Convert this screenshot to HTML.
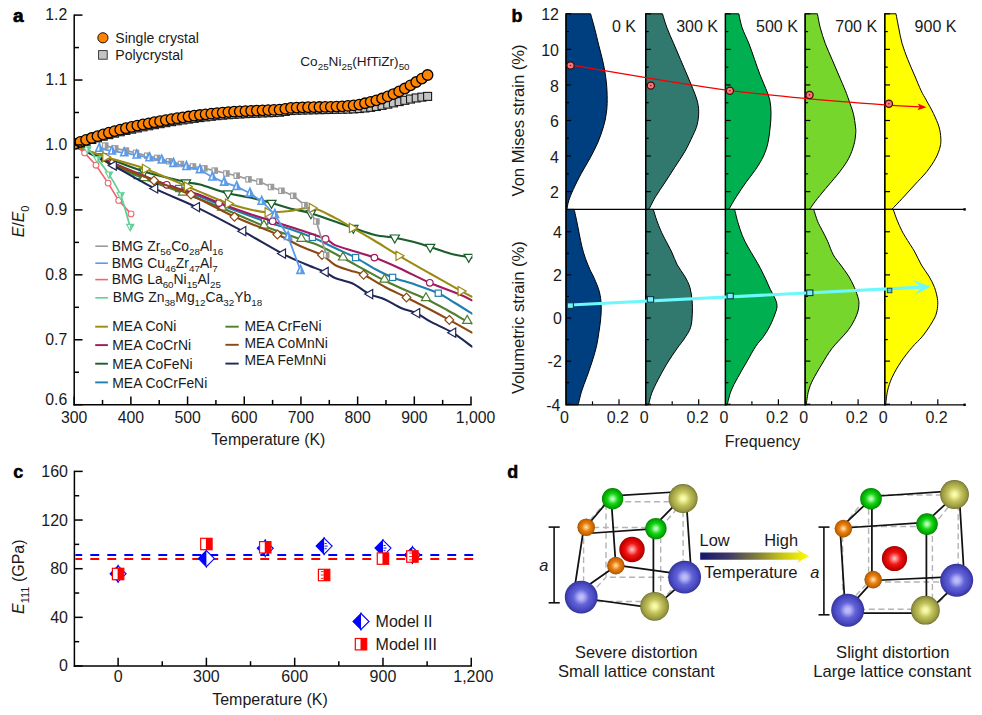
<!DOCTYPE html>
<html><head><meta charset="utf-8"><title>Figure</title>
<style>
html,body{margin:0;padding:0;background:#fff;}
body{width:982px;height:715px;overflow:hidden;font-family:"Liberation Sans",sans-serif;}
svg{display:block;}
svg text{font-family:"Liberation Sans",sans-serif;}
</style></head><body>
<svg width="982" height="715" viewBox="0 0 982 715">
<rect x="0" y="0" width="982" height="715" fill="#ffffff"/>
<g id="panelA">
<clipPath id="clipA"><rect x="74.2" y="0" width="398.2" height="404.7"/></clipPath><g clip-path="url(#clipA)">
<path d="M75 146 C80.83 148.83 99.67 158.08 110 163 C120.33 167.92 125.55 171.25 137 175.5 C148.45 179.75 164.7 183.58 178.7 188.5 C192.7 193.42 206.68 199.55 221 205 C235.32 210.45 253.1 217.2 264.6 221.2 C276.1 225.2 282.03 226.3 290 229 C297.97 231.7 304.9 234.23 312.4 237.4 C319.9 240.57 327.8 244.63 335 248 C342.2 251.37 348.93 254.1 355.6 257.6 C362.27 261.1 368.83 265.7 375 269 C381.17 272.3 385.93 274.82 392.6 277.4 C399.27 279.98 407.38 281.87 415 284.5 C422.62 287.13 431.63 290.12 438.3 293.2 C444.97 296.28 449.38 299.6 455 303 C460.62 306.4 469.17 311.83 472 313.6" fill="none" stroke="#1f7fb0" stroke-width="2.1" stroke-linecap="round"/>
<rect x="133.9" y="172.4" width="6.2" height="6.2" fill="#fff" stroke="#1f7fb0" stroke-width="1.2"/>
<rect x="175.6" y="185.4" width="6.2" height="6.2" fill="#fff" stroke="#1f7fb0" stroke-width="1.2"/>
<rect x="217.9" y="201.9" width="6.2" height="6.2" fill="#fff" stroke="#1f7fb0" stroke-width="1.2"/>
<rect x="261.5" y="218.1" width="6.2" height="6.2" fill="#fff" stroke="#1f7fb0" stroke-width="1.2"/>
<rect x="309.3" y="234.3" width="6.2" height="6.2" fill="#fff" stroke="#1f7fb0" stroke-width="1.2"/>
<rect x="352.5" y="254.5" width="6.2" height="6.2" fill="#fff" stroke="#1f7fb0" stroke-width="1.2"/>
<rect x="389.5" y="274.3" width="6.2" height="6.2" fill="#fff" stroke="#1f7fb0" stroke-width="1.2"/>
<rect x="435.2" y="290.1" width="6.2" height="6.2" fill="#fff" stroke="#1f7fb0" stroke-width="1.2"/>
<path d="M75 146 C80.83 148.92 98.52 158.08 110 163.5 C121.48 168.92 131.73 173.58 143.9 178.5 C156.07 183.42 169.98 188.08 183 193 C196.02 197.92 208.52 202.5 222 208 C235.48 213.5 250.67 220.75 263.9 226 C277.13 231.25 292.05 236.17 301.4 239.5 C310.75 242.83 313.07 242.92 320 246 C326.93 249.08 335.5 254 343 258 C350.5 262 358.08 266.25 365 270 C371.92 273.75 377.83 277.17 384.5 280.5 C391.17 283.83 398.08 286.92 405 290 C411.92 293.08 419 295.67 426 299 C433 302.33 440.13 306.25 447 310 C453.87 313.75 463.03 319.25 467.2 321.5 C471.37 323.75 471.2 323.17 472 323.5" fill="none" stroke="#4f7f2f" stroke-width="2.1" stroke-linecap="round"/>
<polygon points="143.9,172.7 148.5,180.7 139.3,180.7" fill="#fff" stroke="#4f7f2f" stroke-width="1.2" stroke-linejoin="miter"/>
<polygon points="183,187.2 187.6,195.2 178.4,195.2" fill="#fff" stroke="#4f7f2f" stroke-width="1.2" stroke-linejoin="miter"/>
<polygon points="222,202.2 226.6,210.2 217.4,210.2" fill="#fff" stroke="#4f7f2f" stroke-width="1.2" stroke-linejoin="miter"/>
<polygon points="263.9,220.1 268.5,228.1 259.3,228.1" fill="#fff" stroke="#4f7f2f" stroke-width="1.2" stroke-linejoin="miter"/>
<polygon points="301.4,233.3 306,241.3 296.8,241.3" fill="#fff" stroke="#4f7f2f" stroke-width="1.2" stroke-linejoin="miter"/>
<polygon points="343,252 347.6,260 338.4,260" fill="#fff" stroke="#4f7f2f" stroke-width="1.2" stroke-linejoin="miter"/>
<polygon points="384.5,274.2 389.1,282.2 379.9,282.2" fill="#fff" stroke="#4f7f2f" stroke-width="1.2" stroke-linejoin="miter"/>
<polygon points="426,292.7 430.6,300.7 421.4,300.7" fill="#fff" stroke="#4f7f2f" stroke-width="1.2" stroke-linejoin="miter"/>
<polygon points="467.2,315.4 471.8,323.4 462.6,323.4" fill="#fff" stroke="#4f7f2f" stroke-width="1.2" stroke-linejoin="miter"/>
<path d="M75 146 C79.5 147.67 90.5 151.75 102 156 C113.5 160.25 130 167.17 144 171.5 C158 175.83 176.67 179.83 186 182 C195.33 184.17 193.02 182.62 200 184.5 C206.98 186.38 219.57 191.13 227.9 193.3 C236.23 195.47 242.73 195.88 250 197.5 C257.27 199.12 264.83 201.17 271.5 203 C278.17 204.83 283.43 206.8 290 208.5 C296.57 210.2 303.4 211.02 310.9 213.2 C318.4 215.38 327.92 219.13 335 221.6 C342.08 224.07 346.73 225.77 353.4 228 C360.07 230.23 368.1 233.38 375 235 C381.9 236.62 388.63 236.62 394.8 237.7 C400.97 238.78 406.1 239.95 412 241.5 C417.9 243.05 423.87 245 430.2 247 C436.53 249 443.58 251.8 450 253.5 C456.42 255.2 465.03 256.5 468.7 257.2 C472.37 257.9 471.45 257.62 472 257.7" fill="none" stroke="#1b5e2b" stroke-width="2.1" stroke-linecap="round"/>
<polygon points="102,161.8 106.6,153.8 97.4,153.8" fill="#fff" stroke="#1b5e2b" stroke-width="1.2"/>
<polygon points="144,176.8 148.6,168.8 139.4,168.8" fill="#fff" stroke="#1b5e2b" stroke-width="1.2"/>
<polygon points="186,187.8 190.6,179.8 181.4,179.8" fill="#fff" stroke="#1b5e2b" stroke-width="1.2"/>
<polygon points="227.9,198.9 232.5,190.9 223.3,190.9" fill="#fff" stroke="#1b5e2b" stroke-width="1.2"/>
<polygon points="271.5,208.4 276.1,200.4 266.9,200.4" fill="#fff" stroke="#1b5e2b" stroke-width="1.2"/>
<polygon points="310.9,218.7 315.5,210.7 306.3,210.7" fill="#fff" stroke="#1b5e2b" stroke-width="1.2"/>
<polygon points="353.4,233.3 358,225.3 348.8,225.3" fill="#fff" stroke="#1b5e2b" stroke-width="1.2"/>
<polygon points="394.8,243 399.4,235 390.2,235" fill="#fff" stroke="#1b5e2b" stroke-width="1.2"/>
<polygon points="430.2,252.4 434.8,244.4 425.6,244.4" fill="#fff" stroke="#1b5e2b" stroke-width="1.2"/>
<polygon points="468.7,262.4 473.3,254.4 464.1,254.4" fill="#fff" stroke="#1b5e2b" stroke-width="1.2"/>
<path d="M75 146 C81.33 148.83 97.7 156.53 113 163 C128.3 169.47 152.3 179.47 166.8 184.8 C181.3 190.13 191.3 191.97 200 195 C208.7 198.03 210.67 199.83 219 203 C227.33 206.17 241.05 210.97 250 214 C258.95 217.03 264.37 218.53 272.7 221.2 C281.03 223.87 291.18 227.05 300 230 C308.82 232.95 319.77 236.38 325.6 238.9 C331.43 241.42 330.1 243 335 245.1 C339.9 247.2 348.43 249.42 355 251.5 C361.57 253.58 366.9 254.77 374.4 257.6 C381.9 260.43 390.77 264.3 400 268.5 C409.23 272.7 419.63 278.38 429.8 282.8 C439.97 287.22 453.97 292.07 461 295 C468.03 297.93 470.17 299.5 472 300.4" fill="none" stroke="#a3195b" stroke-width="2.1" stroke-linecap="round"/>
<circle cx="113" cy="163" r="3.3" fill="#fff" stroke="#a3195b" stroke-width="1.2"/>
<circle cx="166.8" cy="184.8" r="3.3" fill="#fff" stroke="#a3195b" stroke-width="1.2"/>
<circle cx="219" cy="203" r="3.3" fill="#fff" stroke="#a3195b" stroke-width="1.2"/>
<circle cx="272.7" cy="221.2" r="3.3" fill="#fff" stroke="#a3195b" stroke-width="1.2"/>
<circle cx="325.6" cy="238.9" r="3.3" fill="#fff" stroke="#a3195b" stroke-width="1.2"/>
<circle cx="374.4" cy="257.6" r="3.3" fill="#fff" stroke="#a3195b" stroke-width="1.2"/>
<circle cx="429.8" cy="282.8" r="3.3" fill="#fff" stroke="#a3195b" stroke-width="1.2"/>
<path d="M75 146 C81.17 148.92 98.83 157.75 112 163.5 C125.17 169.25 140.83 175.25 154 180.5 C167.17 185.75 177.58 188.95 191 195 C204.42 201.05 220.1 210.22 234.5 216.8 C248.9 223.38 266.48 229.63 277.4 234.5 C288.32 239.37 292.57 242.58 300 246 C307.43 249.42 316.17 251.83 322 255 C327.83 258.17 330.33 262.42 335 265 C339.67 267.58 345.23 268.87 350 270.5 C354.77 272.13 357.77 272.05 363.6 274.8 C369.43 277.55 377.85 283.22 385 287 C392.15 290.78 399 293.75 406.5 297.5 C414 301.25 422.87 305.77 430 309.5 C437.13 313.23 442.3 316.03 449.3 319.9 C456.3 323.77 468.22 330.57 472 332.7" fill="none" stroke="#8b4a12" stroke-width="2.1" stroke-linecap="round"/>
<polygon points="112,159.1 116.4,163.5 112,167.9 107.6,163.5" fill="#fff" stroke="#8b4a12" stroke-width="1.2"/>
<polygon points="154,176.1 158.4,180.5 154,184.9 149.6,180.5" fill="#fff" stroke="#8b4a12" stroke-width="1.2"/>
<polygon points="191,190.2 195.4,194.6 191,199 186.6,194.6" fill="#fff" stroke="#8b4a12" stroke-width="1.2"/>
<polygon points="234.5,212.4 238.9,216.8 234.5,221.2 230.1,216.8" fill="#fff" stroke="#8b4a12" stroke-width="1.2"/>
<polygon points="277.4,230.1 281.8,234.5 277.4,238.9 273,234.5" fill="#fff" stroke="#8b4a12" stroke-width="1.2"/>
<polygon points="322,250.6 326.4,255 322,259.4 317.6,255" fill="#fff" stroke="#8b4a12" stroke-width="1.2"/>
<polygon points="363.6,270.4 368,274.8 363.6,279.2 359.2,274.8" fill="#fff" stroke="#8b4a12" stroke-width="1.2"/>
<polygon points="406.5,293.1 410.9,297.5 406.5,301.9 402.1,297.5" fill="#fff" stroke="#8b4a12" stroke-width="1.2"/>
<polygon points="449.3,315.5 453.7,319.9 449.3,324.3 444.9,319.9" fill="#fff" stroke="#8b4a12" stroke-width="1.2"/>
<path d="M75 146 C79.17 148 93.65 154.75 100 158 C106.35 161.25 104.02 160.43 113.1 165.5 C122.18 170.57 140.63 181.47 154.5 188.4 C168.37 195.33 181.62 199.97 196.3 207.1 C210.98 214.23 228.27 223.45 242.6 231.2 C256.93 238.95 271.9 248.13 282.3 253.6 C292.7 259.07 297.88 260.93 305 264 C312.12 267.07 320 269.67 325 272 C330 274.33 330.4 276.08 335 278 C339.6 279.92 346.85 280.82 352.6 283.5 C358.35 286.18 364.1 291.43 369.5 294.1 C374.9 296.77 379.75 297.18 385 299.5 C390.25 301.82 395.75 305.72 401 308 C406.25 310.28 411.58 310.92 416.5 313.2 C421.42 315.48 424.5 318.45 430.5 321.7 C436.5 324.95 445.58 328.53 452.5 332.7 C459.42 336.87 468.75 344.37 472 346.7" fill="none" stroke="#1f2757" stroke-width="2.1" stroke-linecap="round"/>
<polygon points="108.3,165.5 116.3,160.9 116.3,170.1" fill="#fff" stroke="#1f2757" stroke-width="1.2"/>
<polygon points="149.7,188.4 157.7,183.8 157.7,193" fill="#fff" stroke="#1f2757" stroke-width="1.2"/>
<polygon points="191.5,207.1 199.5,202.5 199.5,211.7" fill="#fff" stroke="#1f2757" stroke-width="1.2"/>
<polygon points="237.8,231.2 245.8,226.6 245.8,235.8" fill="#fff" stroke="#1f2757" stroke-width="1.2"/>
<polygon points="277.5,253.6 285.5,249 285.5,258.2" fill="#fff" stroke="#1f2757" stroke-width="1.2"/>
<polygon points="320.2,272 328.2,267.4 328.2,276.6" fill="#fff" stroke="#1f2757" stroke-width="1.2"/>
<polygon points="364.7,294.1 372.7,289.5 372.7,298.7" fill="#fff" stroke="#1f2757" stroke-width="1.2"/>
<polygon points="411.7,313.2 419.7,308.6 419.7,317.8" fill="#fff" stroke="#1f2757" stroke-width="1.2"/>
<polygon points="447.7,332.7 455.7,328.1 455.7,337.3" fill="#fff" stroke="#1f2757" stroke-width="1.2"/>
<path d="M75 146 C80.17 147.83 94.23 153.18 106 157 C117.77 160.82 132.02 163.98 145.6 168.9 C159.18 173.82 178.43 182.67 187.5 186.5 C196.57 190.33 193.15 189.05 200 191.9 C206.85 194.75 220.27 200.67 228.6 203.6 C236.93 206.53 243.38 208.03 250 209.5 C256.62 210.97 261.63 212.15 268.3 212.4 C274.97 212.65 282.65 211.73 290 211 C297.35 210.27 304.9 206.85 312.4 208 C319.9 209.15 328.3 214.58 335 217.9 C341.7 221.22 345.93 224.05 352.6 227.9 C359.27 231.75 367.23 236.35 375 241 C382.77 245.65 390.03 250.38 399.2 255.8 C408.37 261.22 419.65 267.62 430 273.5 C440.35 279.38 454.3 287.23 461.3 291.1 C468.3 294.97 470.22 295.77 472 296.7" fill="none" stroke="#9a8b14" stroke-width="2.1" stroke-linecap="round"/>
<polygon points="110.8,157 102.8,152.4 102.8,161.6" fill="#fff" stroke="#9a8b14" stroke-width="1.2"/>
<polygon points="150.4,168.9 142.4,164.3 142.4,173.5" fill="#fff" stroke="#9a8b14" stroke-width="1.2"/>
<polygon points="192.3,186.5 184.3,181.9 184.3,191.1" fill="#fff" stroke="#9a8b14" stroke-width="1.2"/>
<polygon points="233.4,203.6 225.4,199 225.4,208.2" fill="#fff" stroke="#9a8b14" stroke-width="1.2"/>
<polygon points="273.1,212.4 265.1,207.8 265.1,217" fill="#fff" stroke="#9a8b14" stroke-width="1.2"/>
<polygon points="317.2,208 309.2,203.4 309.2,212.6" fill="#fff" stroke="#9a8b14" stroke-width="1.2"/>
<polygon points="357.4,227.9 349.4,223.3 349.4,232.5" fill="#fff" stroke="#9a8b14" stroke-width="1.2"/>
<polygon points="404,255.8 396,251.2 396,260.4" fill="#fff" stroke="#9a8b14" stroke-width="1.2"/>
<polygon points="466.1,291.1 458.1,286.5 458.1,295.7" fill="#fff" stroke="#9a8b14" stroke-width="1.2"/>
<polyline points="105.3,145.6 115.3,148.4 126,150.6 136,152.9 147.2,155.7 157.3,157.9 169.1,161.3 181,164 193,166.5 204.4,168.4 214.7,170.6 226.4,173.5 236.7,175.7 248.5,179.4 259.5,181.6 271,187 281.5,190.8 293.3,195.8 304.6,205.1 316.4,221.5 326.3,255" fill="none" stroke="#9a9a9a" stroke-width="1.7"/>
<rect x="102.6" y="142.9" width="5.4" height="5.4" fill="#fff" stroke="#9a9a9a" stroke-width="1.1"/>
<rect x="104.76" y="142.9" width="3.24" height="5.4" fill="#9a9a9a"/>
<rect x="112.6" y="145.7" width="5.4" height="5.4" fill="#fff" stroke="#9a9a9a" stroke-width="1.1"/>
<rect x="114.76" y="145.7" width="3.24" height="5.4" fill="#9a9a9a"/>
<rect x="123.3" y="147.9" width="5.4" height="5.4" fill="#fff" stroke="#9a9a9a" stroke-width="1.1"/>
<rect x="125.46" y="147.9" width="3.24" height="5.4" fill="#9a9a9a"/>
<rect x="133.3" y="150.2" width="5.4" height="5.4" fill="#fff" stroke="#9a9a9a" stroke-width="1.1"/>
<rect x="135.46" y="150.2" width="3.24" height="5.4" fill="#9a9a9a"/>
<rect x="144.5" y="153" width="5.4" height="5.4" fill="#fff" stroke="#9a9a9a" stroke-width="1.1"/>
<rect x="146.66" y="153" width="3.24" height="5.4" fill="#9a9a9a"/>
<rect x="154.6" y="155.2" width="5.4" height="5.4" fill="#fff" stroke="#9a9a9a" stroke-width="1.1"/>
<rect x="156.76" y="155.2" width="3.24" height="5.4" fill="#9a9a9a"/>
<rect x="166.4" y="158.6" width="5.4" height="5.4" fill="#fff" stroke="#9a9a9a" stroke-width="1.1"/>
<rect x="168.56" y="158.6" width="3.24" height="5.4" fill="#9a9a9a"/>
<rect x="178.3" y="161.3" width="5.4" height="5.4" fill="#fff" stroke="#9a9a9a" stroke-width="1.1"/>
<rect x="180.46" y="161.3" width="3.24" height="5.4" fill="#9a9a9a"/>
<rect x="190.3" y="163.8" width="5.4" height="5.4" fill="#fff" stroke="#9a9a9a" stroke-width="1.1"/>
<rect x="192.46" y="163.8" width="3.24" height="5.4" fill="#9a9a9a"/>
<rect x="201.7" y="165.7" width="5.4" height="5.4" fill="#fff" stroke="#9a9a9a" stroke-width="1.1"/>
<rect x="203.86" y="165.7" width="3.24" height="5.4" fill="#9a9a9a"/>
<rect x="212" y="167.9" width="5.4" height="5.4" fill="#fff" stroke="#9a9a9a" stroke-width="1.1"/>
<rect x="214.16" y="167.9" width="3.24" height="5.4" fill="#9a9a9a"/>
<rect x="223.7" y="170.8" width="5.4" height="5.4" fill="#fff" stroke="#9a9a9a" stroke-width="1.1"/>
<rect x="225.86" y="170.8" width="3.24" height="5.4" fill="#9a9a9a"/>
<rect x="234" y="173" width="5.4" height="5.4" fill="#fff" stroke="#9a9a9a" stroke-width="1.1"/>
<rect x="236.16" y="173" width="3.24" height="5.4" fill="#9a9a9a"/>
<rect x="245.8" y="176.7" width="5.4" height="5.4" fill="#fff" stroke="#9a9a9a" stroke-width="1.1"/>
<rect x="247.96" y="176.7" width="3.24" height="5.4" fill="#9a9a9a"/>
<rect x="256.8" y="178.9" width="5.4" height="5.4" fill="#fff" stroke="#9a9a9a" stroke-width="1.1"/>
<rect x="258.96" y="178.9" width="3.24" height="5.4" fill="#9a9a9a"/>
<rect x="268.3" y="184.3" width="5.4" height="5.4" fill="#fff" stroke="#9a9a9a" stroke-width="1.1"/>
<rect x="270.46" y="184.3" width="3.24" height="5.4" fill="#9a9a9a"/>
<rect x="278.8" y="188.1" width="5.4" height="5.4" fill="#fff" stroke="#9a9a9a" stroke-width="1.1"/>
<rect x="280.96" y="188.1" width="3.24" height="5.4" fill="#9a9a9a"/>
<rect x="290.6" y="193.1" width="5.4" height="5.4" fill="#fff" stroke="#9a9a9a" stroke-width="1.1"/>
<rect x="292.76" y="193.1" width="3.24" height="5.4" fill="#9a9a9a"/>
<rect x="301.9" y="202.4" width="5.4" height="5.4" fill="#fff" stroke="#9a9a9a" stroke-width="1.1"/>
<rect x="304.06" y="202.4" width="3.24" height="5.4" fill="#9a9a9a"/>
<rect x="313.7" y="218.8" width="5.4" height="5.4" fill="#fff" stroke="#9a9a9a" stroke-width="1.1"/>
<rect x="315.86" y="218.8" width="3.24" height="5.4" fill="#9a9a9a"/>
<rect x="323.6" y="252.3" width="5.4" height="5.4" fill="#fff" stroke="#9a9a9a" stroke-width="1.1"/>
<rect x="325.76" y="252.3" width="3.24" height="5.4" fill="#9a9a9a"/>
<polyline points="99.3,148.4 112,151.2 124.3,152.9 136.8,155.1 149.5,157.9 161.8,160.2 173.5,163.5 186.5,166.6 200,169.8 212.5,177.2 224.2,182.3 236.7,186.7 250,193.3 261.7,201.4 274.9,214.6 288.1,236.7 300.5,270.5" fill="none" stroke="#5b9bea" stroke-width="1.8"/>
<polygon points="99.3,143.35 102.9,151.27 95.7,151.27" fill="#fff" stroke="#5b9bea" stroke-width="1.6" stroke-linejoin="miter"/>
<polygon points="99.3,143.35 102.9,151.27 99.3,151.27" fill="#5b9bea"/>
<polygon points="112,146.15 115.6,154.07 108.4,154.07" fill="#fff" stroke="#5b9bea" stroke-width="1.6" stroke-linejoin="miter"/>
<polygon points="112,146.15 115.6,154.07 112,154.07" fill="#5b9bea"/>
<polygon points="124.3,147.85 127.9,155.77 120.7,155.77" fill="#fff" stroke="#5b9bea" stroke-width="1.6" stroke-linejoin="miter"/>
<polygon points="124.3,147.85 127.9,155.77 124.3,155.77" fill="#5b9bea"/>
<polygon points="136.8,150.05 140.4,157.97 133.2,157.97" fill="#fff" stroke="#5b9bea" stroke-width="1.6" stroke-linejoin="miter"/>
<polygon points="136.8,150.05 140.4,157.97 136.8,157.97" fill="#5b9bea"/>
<polygon points="149.5,152.85 153.1,160.77 145.9,160.77" fill="#fff" stroke="#5b9bea" stroke-width="1.6" stroke-linejoin="miter"/>
<polygon points="149.5,152.85 153.1,160.77 149.5,160.77" fill="#5b9bea"/>
<polygon points="161.8,155.15 165.4,163.07 158.2,163.07" fill="#fff" stroke="#5b9bea" stroke-width="1.6" stroke-linejoin="miter"/>
<polygon points="161.8,155.15 165.4,163.07 161.8,163.07" fill="#5b9bea"/>
<polygon points="173.5,158.45 177.1,166.37 169.9,166.37" fill="#fff" stroke="#5b9bea" stroke-width="1.6" stroke-linejoin="miter"/>
<polygon points="173.5,158.45 177.1,166.37 173.5,166.37" fill="#5b9bea"/>
<polygon points="186.5,161.55 190.1,169.47 182.9,169.47" fill="#fff" stroke="#5b9bea" stroke-width="1.6" stroke-linejoin="miter"/>
<polygon points="186.5,161.55 190.1,169.47 186.5,169.47" fill="#5b9bea"/>
<polygon points="200,164.75 203.6,172.67 196.4,172.67" fill="#fff" stroke="#5b9bea" stroke-width="1.6" stroke-linejoin="miter"/>
<polygon points="200,164.75 203.6,172.67 200,172.67" fill="#5b9bea"/>
<polygon points="212.5,172.15 216.1,180.07 208.9,180.07" fill="#fff" stroke="#5b9bea" stroke-width="1.6" stroke-linejoin="miter"/>
<polygon points="212.5,172.15 216.1,180.07 212.5,180.07" fill="#5b9bea"/>
<polygon points="224.2,177.25 227.8,185.17 220.6,185.17" fill="#fff" stroke="#5b9bea" stroke-width="1.6" stroke-linejoin="miter"/>
<polygon points="224.2,177.25 227.8,185.17 224.2,185.17" fill="#5b9bea"/>
<polygon points="236.7,181.65 240.3,189.57 233.1,189.57" fill="#fff" stroke="#5b9bea" stroke-width="1.6" stroke-linejoin="miter"/>
<polygon points="236.7,181.65 240.3,189.57 236.7,189.57" fill="#5b9bea"/>
<polygon points="250,188.25 253.6,196.17 246.4,196.17" fill="#fff" stroke="#5b9bea" stroke-width="1.6" stroke-linejoin="miter"/>
<polygon points="250,188.25 253.6,196.17 250,196.17" fill="#5b9bea"/>
<polygon points="261.7,196.35 265.3,204.27 258.1,204.27" fill="#fff" stroke="#5b9bea" stroke-width="1.6" stroke-linejoin="miter"/>
<polygon points="261.7,196.35 265.3,204.27 261.7,204.27" fill="#5b9bea"/>
<polygon points="274.9,209.55 278.5,217.47 271.3,217.47" fill="#fff" stroke="#5b9bea" stroke-width="1.6" stroke-linejoin="miter"/>
<polygon points="274.9,209.55 278.5,217.47 274.9,217.47" fill="#5b9bea"/>
<polygon points="288.1,231.65 291.7,239.57 284.5,239.57" fill="#fff" stroke="#5b9bea" stroke-width="1.6" stroke-linejoin="miter"/>
<polygon points="288.1,231.65 291.7,239.57 288.1,239.57" fill="#5b9bea"/>
<polygon points="300.5,265.45 304.1,273.37 296.9,273.37" fill="#fff" stroke="#5b9bea" stroke-width="1.6" stroke-linejoin="miter"/>
<polygon points="300.5,265.45 304.1,273.37 300.5,273.37" fill="#5b9bea"/>
<polyline points="75,145.5 84.6,152.9 96,165.2 108.1,183.1 118.7,200.4 131,213.9" fill="none" stroke="#f0656f" stroke-width="1.6"/>
<circle cx="84.6" cy="152.9" r="2.9" fill="#fff" stroke="#f0656f" stroke-width="1.1"/>
<circle cx="96" cy="165.2" r="2.9" fill="#fff" stroke="#f0656f" stroke-width="1.1"/>
<circle cx="108.1" cy="183.1" r="2.9" fill="#fff" stroke="#f0656f" stroke-width="1.1"/>
<circle cx="118.7" cy="200.4" r="2.9" fill="#fff" stroke="#f0656f" stroke-width="1.1"/>
<circle cx="131" cy="213.9" r="2.9" fill="#fff" stroke="#f0656f" stroke-width="1.1"/>
<path d="M78 145.5 C79.57 146.17 84.18 147.22 87.4 149.5 C90.62 151.78 93.7 155.02 97.3 159.2 C100.9 163.38 105.12 168.57 109 174.6 C112.88 180.63 117.07 186.67 120.6 195.4 C124.13 204.13 128.6 221.73 130.2 227" fill="none" stroke="#62cf96" stroke-width="1.8"/>
<polygon points="87.4,153.39 91,146.91 83.8,146.91" fill="#fff" stroke="#62cf96" stroke-width="1.1"/>
<polygon points="87.4,153.39 91,146.91 87.4,146.91" fill="#62cf96"/>
<polygon points="97.3,163.09 100.9,156.61 93.7,156.61" fill="#fff" stroke="#62cf96" stroke-width="1.1"/>
<polygon points="97.3,163.09 100.9,156.61 97.3,156.61" fill="#62cf96"/>
<polygon points="109,178.49 112.6,172.01 105.4,172.01" fill="#fff" stroke="#62cf96" stroke-width="1.1"/>
<polygon points="109,178.49 112.6,172.01 109,172.01" fill="#62cf96"/>
<polygon points="120.6,199.29 124.2,192.81 117,192.81" fill="#fff" stroke="#62cf96" stroke-width="1.1"/>
<polygon points="120.6,199.29 124.2,192.81 120.6,192.81" fill="#62cf96"/>
<polygon points="130.2,230.89 133.8,224.41 126.6,224.41" fill="#fff" stroke="#62cf96" stroke-width="1.1"/>
<polygon points="130.2,230.89 133.8,224.41 130.2,224.41" fill="#62cf96"/>
<rect x="70.7" y="140.8" width="8" height="8" fill="#c4c4c4" stroke="#1a1a1a" stroke-width="1.1"/>
<rect x="76.39" y="139.01" width="8" height="8" fill="#c4c4c4" stroke="#1a1a1a" stroke-width="1.1"/>
<rect x="82.08" y="137.21" width="8" height="8" fill="#c4c4c4" stroke="#1a1a1a" stroke-width="1.1"/>
<rect x="87.78" y="135.49" width="8" height="8" fill="#c4c4c4" stroke="#1a1a1a" stroke-width="1.1"/>
<rect x="93.47" y="133.83" width="8" height="8" fill="#c4c4c4" stroke="#1a1a1a" stroke-width="1.1"/>
<rect x="99.16" y="132.2" width="8" height="8" fill="#c4c4c4" stroke="#1a1a1a" stroke-width="1.1"/>
<rect x="104.85" y="130.64" width="8" height="8" fill="#c4c4c4" stroke="#1a1a1a" stroke-width="1.1"/>
<rect x="110.54" y="129.16" width="8" height="8" fill="#c4c4c4" stroke="#1a1a1a" stroke-width="1.1"/>
<rect x="116.24" y="127.75" width="8" height="8" fill="#c4c4c4" stroke="#1a1a1a" stroke-width="1.1"/>
<rect x="121.93" y="126.42" width="8" height="8" fill="#c4c4c4" stroke="#1a1a1a" stroke-width="1.1"/>
<rect x="127.62" y="125.16" width="8" height="8" fill="#c4c4c4" stroke="#1a1a1a" stroke-width="1.1"/>
<rect x="133.31" y="123.95" width="8" height="8" fill="#c4c4c4" stroke="#1a1a1a" stroke-width="1.1"/>
<rect x="139" y="122.82" width="8" height="8" fill="#c4c4c4" stroke="#1a1a1a" stroke-width="1.1"/>
<rect x="144.7" y="121.75" width="8" height="8" fill="#c4c4c4" stroke="#1a1a1a" stroke-width="1.1"/>
<rect x="150.39" y="120.7" width="8" height="8" fill="#c4c4c4" stroke="#1a1a1a" stroke-width="1.1"/>
<rect x="156.08" y="119.67" width="8" height="8" fill="#c4c4c4" stroke="#1a1a1a" stroke-width="1.1"/>
<rect x="161.77" y="118.66" width="8" height="8" fill="#c4c4c4" stroke="#1a1a1a" stroke-width="1.1"/>
<rect x="167.46" y="117.68" width="8" height="8" fill="#c4c4c4" stroke="#1a1a1a" stroke-width="1.1"/>
<rect x="173.15" y="116.76" width="8" height="8" fill="#c4c4c4" stroke="#1a1a1a" stroke-width="1.1"/>
<rect x="178.85" y="115.9" width="8" height="8" fill="#c4c4c4" stroke="#1a1a1a" stroke-width="1.1"/>
<rect x="184.54" y="115.09" width="8" height="8" fill="#c4c4c4" stroke="#1a1a1a" stroke-width="1.1"/>
<rect x="190.23" y="114.32" width="8" height="8" fill="#c4c4c4" stroke="#1a1a1a" stroke-width="1.1"/>
<rect x="195.92" y="113.6" width="8" height="8" fill="#c4c4c4" stroke="#1a1a1a" stroke-width="1.1"/>
<rect x="201.61" y="112.9" width="8" height="8" fill="#c4c4c4" stroke="#1a1a1a" stroke-width="1.1"/>
<rect x="207.31" y="112.25" width="8" height="8" fill="#c4c4c4" stroke="#1a1a1a" stroke-width="1.1"/>
<rect x="213" y="111.66" width="8" height="8" fill="#c4c4c4" stroke="#1a1a1a" stroke-width="1.1"/>
<rect x="218.69" y="111.14" width="8" height="8" fill="#c4c4c4" stroke="#1a1a1a" stroke-width="1.1"/>
<rect x="224.38" y="110.7" width="8" height="8" fill="#c4c4c4" stroke="#1a1a1a" stroke-width="1.1"/>
<rect x="230.07" y="110.32" width="8" height="8" fill="#c4c4c4" stroke="#1a1a1a" stroke-width="1.1"/>
<rect x="235.77" y="109.98" width="8" height="8" fill="#c4c4c4" stroke="#1a1a1a" stroke-width="1.1"/>
<rect x="241.46" y="109.66" width="8" height="8" fill="#c4c4c4" stroke="#1a1a1a" stroke-width="1.1"/>
<rect x="247.15" y="109.39" width="8" height="8" fill="#c4c4c4" stroke="#1a1a1a" stroke-width="1.1"/>
<rect x="252.84" y="109.14" width="8" height="8" fill="#c4c4c4" stroke="#1a1a1a" stroke-width="1.1"/>
<rect x="258.53" y="108.9" width="8" height="8" fill="#c4c4c4" stroke="#1a1a1a" stroke-width="1.1"/>
<rect x="264.23" y="108.72" width="8" height="8" fill="#c4c4c4" stroke="#1a1a1a" stroke-width="1.1"/>
<rect x="269.92" y="108.55" width="8" height="8" fill="#c4c4c4" stroke="#1a1a1a" stroke-width="1.1"/>
<rect x="275.61" y="108.23" width="8" height="8" fill="#c4c4c4" stroke="#1a1a1a" stroke-width="1.1"/>
<rect x="281.3" y="107.41" width="8" height="8" fill="#c4c4c4" stroke="#1a1a1a" stroke-width="1.1"/>
<rect x="286.99" y="106.53" width="8" height="8" fill="#c4c4c4" stroke="#1a1a1a" stroke-width="1.1"/>
<rect x="292.69" y="106.2" width="8" height="8" fill="#c4c4c4" stroke="#1a1a1a" stroke-width="1.1"/>
<rect x="298.38" y="106.02" width="8" height="8" fill="#c4c4c4" stroke="#1a1a1a" stroke-width="1.1"/>
<rect x="304.07" y="105.9" width="8" height="8" fill="#c4c4c4" stroke="#1a1a1a" stroke-width="1.1"/>
<rect x="309.76" y="105.78" width="8" height="8" fill="#c4c4c4" stroke="#1a1a1a" stroke-width="1.1"/>
<rect x="315.45" y="105.66" width="8" height="8" fill="#c4c4c4" stroke="#1a1a1a" stroke-width="1.1"/>
<rect x="321.15" y="105.57" width="8" height="8" fill="#c4c4c4" stroke="#1a1a1a" stroke-width="1.1"/>
<rect x="326.84" y="105.47" width="8" height="8" fill="#c4c4c4" stroke="#1a1a1a" stroke-width="1.1"/>
<rect x="332.53" y="105.35" width="8" height="8" fill="#c4c4c4" stroke="#1a1a1a" stroke-width="1.1"/>
<rect x="338.22" y="105.23" width="8" height="8" fill="#c4c4c4" stroke="#1a1a1a" stroke-width="1.1"/>
<rect x="343.91" y="105.1" width="8" height="8" fill="#c4c4c4" stroke="#1a1a1a" stroke-width="1.1"/>
<rect x="349.6" y="104.89" width="8" height="8" fill="#c4c4c4" stroke="#1a1a1a" stroke-width="1.1"/>
<rect x="355.3" y="104.54" width="8" height="8" fill="#c4c4c4" stroke="#1a1a1a" stroke-width="1.1"/>
<rect x="360.99" y="103.98" width="8" height="8" fill="#c4c4c4" stroke="#1a1a1a" stroke-width="1.1"/>
<rect x="366.68" y="103.33" width="8" height="8" fill="#c4c4c4" stroke="#1a1a1a" stroke-width="1.1"/>
<rect x="372.37" y="102.49" width="8" height="8" fill="#c4c4c4" stroke="#1a1a1a" stroke-width="1.1"/>
<rect x="378.06" y="101.38" width="8" height="8" fill="#c4c4c4" stroke="#1a1a1a" stroke-width="1.1"/>
<rect x="383.76" y="100.15" width="8" height="8" fill="#c4c4c4" stroke="#1a1a1a" stroke-width="1.1"/>
<rect x="389.45" y="98.88" width="8" height="8" fill="#c4c4c4" stroke="#1a1a1a" stroke-width="1.1"/>
<rect x="395.14" y="97.58" width="8" height="8" fill="#c4c4c4" stroke="#1a1a1a" stroke-width="1.1"/>
<rect x="400.83" y="96.31" width="8" height="8" fill="#c4c4c4" stroke="#1a1a1a" stroke-width="1.1"/>
<rect x="406.52" y="95.05" width="8" height="8" fill="#c4c4c4" stroke="#1a1a1a" stroke-width="1.1"/>
<rect x="412.22" y="93.96" width="8" height="8" fill="#c4c4c4" stroke="#1a1a1a" stroke-width="1.1"/>
<rect x="417.91" y="93.14" width="8" height="8" fill="#c4c4c4" stroke="#1a1a1a" stroke-width="1.1"/>
<rect x="423.6" y="92.4" width="8" height="8" fill="#c4c4c4" stroke="#1a1a1a" stroke-width="1.1"/>
<circle cx="74.7" cy="143.8" r="5.25" fill="#ff8200" stroke="#000" stroke-width="1.3"/>
<circle cx="80.39" cy="141.83" r="5.25" fill="#ff8200" stroke="#000" stroke-width="1.3"/>
<circle cx="86.08" cy="139.86" r="5.25" fill="#ff8200" stroke="#000" stroke-width="1.3"/>
<circle cx="91.78" cy="137.98" r="5.25" fill="#ff8200" stroke="#000" stroke-width="1.3"/>
<circle cx="97.47" cy="136.17" r="5.25" fill="#ff8200" stroke="#000" stroke-width="1.3"/>
<circle cx="103.16" cy="134.41" r="5.25" fill="#ff8200" stroke="#000" stroke-width="1.3"/>
<circle cx="108.85" cy="132.72" r="5.25" fill="#ff8200" stroke="#000" stroke-width="1.3"/>
<circle cx="114.54" cy="131.12" r="5.25" fill="#ff8200" stroke="#000" stroke-width="1.3"/>
<circle cx="120.24" cy="129.63" r="5.25" fill="#ff8200" stroke="#000" stroke-width="1.3"/>
<circle cx="125.93" cy="128.22" r="5.25" fill="#ff8200" stroke="#000" stroke-width="1.3"/>
<circle cx="131.62" cy="126.89" r="5.25" fill="#ff8200" stroke="#000" stroke-width="1.3"/>
<circle cx="137.31" cy="125.62" r="5.25" fill="#ff8200" stroke="#000" stroke-width="1.3"/>
<circle cx="143" cy="124.43" r="5.25" fill="#ff8200" stroke="#000" stroke-width="1.3"/>
<circle cx="148.7" cy="123.3" r="5.25" fill="#ff8200" stroke="#000" stroke-width="1.3"/>
<circle cx="154.39" cy="122.21" r="5.25" fill="#ff8200" stroke="#000" stroke-width="1.3"/>
<circle cx="160.08" cy="121.14" r="5.25" fill="#ff8200" stroke="#000" stroke-width="1.3"/>
<circle cx="165.77" cy="120.09" r="5.25" fill="#ff8200" stroke="#000" stroke-width="1.3"/>
<circle cx="171.46" cy="119.1" r="5.25" fill="#ff8200" stroke="#000" stroke-width="1.3"/>
<circle cx="177.15" cy="118.16" r="5.25" fill="#ff8200" stroke="#000" stroke-width="1.3"/>
<circle cx="182.85" cy="117.29" r="5.25" fill="#ff8200" stroke="#000" stroke-width="1.3"/>
<circle cx="188.54" cy="116.48" r="5.25" fill="#ff8200" stroke="#000" stroke-width="1.3"/>
<circle cx="194.23" cy="115.72" r="5.25" fill="#ff8200" stroke="#000" stroke-width="1.3"/>
<circle cx="199.92" cy="115" r="5.25" fill="#ff8200" stroke="#000" stroke-width="1.3"/>
<circle cx="205.61" cy="114.3" r="5.25" fill="#ff8200" stroke="#000" stroke-width="1.3"/>
<circle cx="211.31" cy="113.65" r="5.25" fill="#ff8200" stroke="#000" stroke-width="1.3"/>
<circle cx="217" cy="113.06" r="5.25" fill="#ff8200" stroke="#000" stroke-width="1.3"/>
<circle cx="222.69" cy="112.54" r="5.25" fill="#ff8200" stroke="#000" stroke-width="1.3"/>
<circle cx="228.38" cy="112.1" r="5.25" fill="#ff8200" stroke="#000" stroke-width="1.3"/>
<circle cx="234.07" cy="111.72" r="5.25" fill="#ff8200" stroke="#000" stroke-width="1.3"/>
<circle cx="239.77" cy="111.38" r="5.25" fill="#ff8200" stroke="#000" stroke-width="1.3"/>
<circle cx="245.46" cy="111.06" r="5.25" fill="#ff8200" stroke="#000" stroke-width="1.3"/>
<circle cx="251.15" cy="110.79" r="5.25" fill="#ff8200" stroke="#000" stroke-width="1.3"/>
<circle cx="256.84" cy="110.54" r="5.25" fill="#ff8200" stroke="#000" stroke-width="1.3"/>
<circle cx="262.53" cy="110.3" r="5.25" fill="#ff8200" stroke="#000" stroke-width="1.3"/>
<circle cx="268.23" cy="110.12" r="5.25" fill="#ff8200" stroke="#000" stroke-width="1.3"/>
<circle cx="273.92" cy="109.95" r="5.25" fill="#ff8200" stroke="#000" stroke-width="1.3"/>
<circle cx="279.61" cy="109.63" r="5.25" fill="#ff8200" stroke="#000" stroke-width="1.3"/>
<circle cx="285.3" cy="108.81" r="5.25" fill="#ff8200" stroke="#000" stroke-width="1.3"/>
<circle cx="290.99" cy="107.93" r="5.25" fill="#ff8200" stroke="#000" stroke-width="1.3"/>
<circle cx="296.69" cy="107.58" r="5.25" fill="#ff8200" stroke="#000" stroke-width="1.3"/>
<circle cx="302.38" cy="107.36" r="5.25" fill="#ff8200" stroke="#000" stroke-width="1.3"/>
<circle cx="308.07" cy="107.22" r="5.25" fill="#ff8200" stroke="#000" stroke-width="1.3"/>
<circle cx="313.76" cy="107.07" r="5.25" fill="#ff8200" stroke="#000" stroke-width="1.3"/>
<circle cx="319.45" cy="106.98" r="5.25" fill="#ff8200" stroke="#000" stroke-width="1.3"/>
<circle cx="325.15" cy="106.93" r="5.25" fill="#ff8200" stroke="#000" stroke-width="1.3"/>
<circle cx="330.84" cy="106.82" r="5.25" fill="#ff8200" stroke="#000" stroke-width="1.3"/>
<circle cx="336.53" cy="106.6" r="5.25" fill="#ff8200" stroke="#000" stroke-width="1.3"/>
<circle cx="342.22" cy="106.32" r="5.25" fill="#ff8200" stroke="#000" stroke-width="1.3"/>
<circle cx="347.91" cy="105.95" r="5.25" fill="#ff8200" stroke="#000" stroke-width="1.3"/>
<circle cx="353.6" cy="105.42" r="5.25" fill="#ff8200" stroke="#000" stroke-width="1.3"/>
<circle cx="359.3" cy="104.57" r="5.25" fill="#ff8200" stroke="#000" stroke-width="1.3"/>
<circle cx="364.99" cy="103.26" r="5.25" fill="#ff8200" stroke="#000" stroke-width="1.3"/>
<circle cx="370.68" cy="101.83" r="5.25" fill="#ff8200" stroke="#000" stroke-width="1.3"/>
<circle cx="376.37" cy="100.3" r="5.25" fill="#ff8200" stroke="#000" stroke-width="1.3"/>
<circle cx="382.06" cy="98.51" r="5.25" fill="#ff8200" stroke="#000" stroke-width="1.3"/>
<circle cx="387.76" cy="96.41" r="5.25" fill="#ff8200" stroke="#000" stroke-width="1.3"/>
<circle cx="393.45" cy="94.04" r="5.25" fill="#ff8200" stroke="#000" stroke-width="1.3"/>
<circle cx="399.14" cy="91.4" r="5.25" fill="#ff8200" stroke="#000" stroke-width="1.3"/>
<circle cx="404.83" cy="88.51" r="5.25" fill="#ff8200" stroke="#000" stroke-width="1.3"/>
<circle cx="410.52" cy="85.37" r="5.25" fill="#ff8200" stroke="#000" stroke-width="1.3"/>
<circle cx="416.22" cy="82" r="5.25" fill="#ff8200" stroke="#000" stroke-width="1.3"/>
<circle cx="421.91" cy="78.55" r="5.25" fill="#ff8200" stroke="#000" stroke-width="1.3"/>
<circle cx="427.6" cy="75" r="5.25" fill="#ff8200" stroke="#000" stroke-width="1.3"/>
</g>
<line x1="74.2" y1="14.4" x2="74.2" y2="405.45" stroke="#000" stroke-width="1.5" />
<line x1="73.45" y1="404.7" x2="471.7" y2="404.7" stroke="#000" stroke-width="1.5" />
<line x1="74.2" y1="15.1" x2="82.5" y2="15.1" stroke="#000" stroke-width="1.5" />
<line x1="74.2" y1="47.57" x2="79" y2="47.57" stroke="#000" stroke-width="1.5" />
<line x1="74.2" y1="80.03" x2="82.5" y2="80.03" stroke="#000" stroke-width="1.5" />
<line x1="74.2" y1="112.5" x2="79" y2="112.5" stroke="#000" stroke-width="1.5" />
<line x1="74.2" y1="144.97" x2="82.5" y2="144.97" stroke="#000" stroke-width="1.5" />
<line x1="74.2" y1="177.43" x2="79" y2="177.43" stroke="#000" stroke-width="1.5" />
<line x1="74.2" y1="209.9" x2="82.5" y2="209.9" stroke="#000" stroke-width="1.5" />
<line x1="74.2" y1="242.37" x2="79" y2="242.37" stroke="#000" stroke-width="1.5" />
<line x1="74.2" y1="274.83" x2="82.5" y2="274.83" stroke="#000" stroke-width="1.5" />
<line x1="74.2" y1="307.3" x2="79" y2="307.3" stroke="#000" stroke-width="1.5" />
<line x1="74.2" y1="339.77" x2="82.5" y2="339.77" stroke="#000" stroke-width="1.5" />
<line x1="74.2" y1="372.23" x2="79" y2="372.23" stroke="#000" stroke-width="1.5" />
<line x1="74.2" y1="404.7" x2="82.5" y2="404.7" stroke="#000" stroke-width="1.5" />
<line x1="74.2" y1="404.7" x2="74.2" y2="396.4" stroke="#000" stroke-width="1.5" />
<line x1="102.54" y1="404.7" x2="102.54" y2="399.9" stroke="#000" stroke-width="1.5" />
<line x1="130.89" y1="404.7" x2="130.89" y2="396.4" stroke="#000" stroke-width="1.5" />
<line x1="159.23" y1="404.7" x2="159.23" y2="399.9" stroke="#000" stroke-width="1.5" />
<line x1="187.57" y1="404.7" x2="187.57" y2="396.4" stroke="#000" stroke-width="1.5" />
<line x1="215.91" y1="404.7" x2="215.91" y2="399.9" stroke="#000" stroke-width="1.5" />
<line x1="244.26" y1="404.7" x2="244.26" y2="396.4" stroke="#000" stroke-width="1.5" />
<line x1="272.6" y1="404.7" x2="272.6" y2="399.9" stroke="#000" stroke-width="1.5" />
<line x1="300.94" y1="404.7" x2="300.94" y2="396.4" stroke="#000" stroke-width="1.5" />
<line x1="329.29" y1="404.7" x2="329.29" y2="399.9" stroke="#000" stroke-width="1.5" />
<line x1="357.63" y1="404.7" x2="357.63" y2="396.4" stroke="#000" stroke-width="1.5" />
<line x1="385.97" y1="404.7" x2="385.97" y2="399.9" stroke="#000" stroke-width="1.5" />
<line x1="414.31" y1="404.7" x2="414.31" y2="396.4" stroke="#000" stroke-width="1.5" />
<line x1="442.66" y1="404.7" x2="442.66" y2="399.9" stroke="#000" stroke-width="1.5" />
<line x1="471" y1="404.7" x2="471" y2="396.4" stroke="#000" stroke-width="1.5" />
<text x="67.2" y="20" font-size="15.8" text-anchor="end" fill="#1a1a1a" >1.2</text>
<text x="67.2" y="84.93" font-size="15.8" text-anchor="end" fill="#1a1a1a" >1.1</text>
<text x="67.2" y="149.87" font-size="15.8" text-anchor="end" fill="#1a1a1a" >1.0</text>
<text x="67.2" y="214.8" font-size="15.8" text-anchor="end" fill="#1a1a1a" >0.9</text>
<text x="67.2" y="279.73" font-size="15.8" text-anchor="end" fill="#1a1a1a" >0.8</text>
<text x="67.2" y="344.67" font-size="15.8" text-anchor="end" fill="#1a1a1a" >0.7</text>
<text x="67.2" y="405" font-size="15.8" text-anchor="end" fill="#1a1a1a" >0.6</text>
<text x="74.2" y="422.8" font-size="15.8" text-anchor="middle" fill="#1a1a1a" >300</text>
<text x="130.89" y="422.8" font-size="15.8" text-anchor="middle" fill="#1a1a1a" >400</text>
<text x="187.57" y="422.8" font-size="15.8" text-anchor="middle" fill="#1a1a1a" >500</text>
<text x="244.26" y="422.8" font-size="15.8" text-anchor="middle" fill="#1a1a1a" >600</text>
<text x="300.94" y="422.8" font-size="15.8" text-anchor="middle" fill="#1a1a1a" >700</text>
<text x="357.63" y="422.8" font-size="15.8" text-anchor="middle" fill="#1a1a1a" >800</text>
<text x="414.31" y="422.8" font-size="15.8" text-anchor="middle" fill="#1a1a1a" >900</text>
<text x="475.5" y="422.8" font-size="15.8" text-anchor="middle" fill="#1a1a1a" >1,000</text>
<text x="268.3" y="445" font-size="15.8" text-anchor="middle" fill="#1a1a1a" >Temperature (K)</text>
<text transform="translate(24.0,221.5) rotate(-90)" font-size="15.8" text-anchor="middle" fill="#1a1a1a"><tspan font-style="italic">E</tspan>/<tspan font-style="italic">E</tspan><tspan font-size="11" dy="5">0</tspan></text>
<text x="12.9" y="21.8" font-size="18" font-weight="bold" fill="#000" stroke="#000" stroke-width="0.6" textLength="10.6" lengthAdjust="spacingAndGlyphs">a</text>
<circle cx="102.9" cy="37.8" r="5.1" fill="#ff8200" stroke="#000" stroke-width="0.9"/>
<rect x="98.6" y="50.6" width="8.6" height="8.6" fill="#c4c4c4" stroke="#2a2a2a" stroke-width="0.9"/>
<text x="115.3" y="42.7" font-size="14.05" text-anchor="start" fill="#1a1a1a" >Single crystal</text>
<text x="115.3" y="59.8" font-size="14.05" text-anchor="start" fill="#1a1a1a" >Polycrystal</text>
<text x="300.3" y="66" font-size="13.6" text-anchor="start" fill="#1a1a1a" >Co<tspan font-size="9.8" dy="4.3">25</tspan><tspan dy="-4.3" font-size="1">&#8203;</tspan>Ni<tspan font-size="9.8" dy="4.3">25</tspan><tspan dy="-4.3" font-size="1">&#8203;</tspan>(HfTiZr)<tspan font-size="9.8" dy="4.3">50</tspan><tspan dy="-4.3" font-size="1">&#8203;</tspan></text>
<line x1="95.3" y1="246.2" x2="107.9" y2="246.2" stroke="#9a9a9a" stroke-width="1.6" />
<text x="111.7" y="250.5" font-size="13.9" text-anchor="start" fill="#1a1a1a" >BMG Zr<tspan font-size="9.8" dy="4.3">56</tspan><tspan dy="-4.3" font-size="1">&#8203;</tspan>Co<tspan font-size="9.8" dy="4.3">28</tspan><tspan dy="-4.3" font-size="1">&#8203;</tspan>Al<tspan font-size="9.8" dy="4.3">16</tspan><tspan dy="-4.3" font-size="1">&#8203;</tspan></text>
<line x1="95.3" y1="263.2" x2="107.9" y2="263.2" stroke="#5b9bea" stroke-width="1.6" />
<text x="111.7" y="267.5" font-size="13.9" text-anchor="start" fill="#1a1a1a" >BMG Cu<tspan font-size="9.8" dy="4.3">46</tspan><tspan dy="-4.3" font-size="1">&#8203;</tspan>Zr<tspan font-size="9.8" dy="4.3">47</tspan><tspan dy="-4.3" font-size="1">&#8203;</tspan>Al<tspan font-size="9.8" dy="4.3">7</tspan><tspan dy="-4.3" font-size="1">&#8203;</tspan></text>
<line x1="95.3" y1="279.6" x2="107.9" y2="279.6" stroke="#f0656f" stroke-width="1.6" />
<text x="111.7" y="283.9" font-size="13.9" text-anchor="start" fill="#1a1a1a" >BMG La<tspan font-size="9.8" dy="4.3">60</tspan><tspan dy="-4.3" font-size="1">&#8203;</tspan>Ni<tspan font-size="9.8" dy="4.3">15</tspan><tspan dy="-4.3" font-size="1">&#8203;</tspan>Al<tspan font-size="9.8" dy="4.3">25</tspan><tspan dy="-4.3" font-size="1">&#8203;</tspan></text>
<line x1="95.3" y1="297.8" x2="107.9" y2="297.8" stroke="#62cf96" stroke-width="1.6" />
<text x="112.7" y="302.1" font-size="13.9" text-anchor="start" fill="#1a1a1a" >BMG Zn<tspan font-size="9.8" dy="4.3">38</tspan><tspan dy="-4.3" font-size="1">&#8203;</tspan>Mg<tspan font-size="9.8" dy="4.3">12</tspan><tspan dy="-4.3" font-size="1">&#8203;</tspan>Ca<tspan font-size="9.8" dy="4.3">32</tspan><tspan dy="-4.3" font-size="1">&#8203;</tspan>Yb<tspan font-size="9.8" dy="4.3">18</tspan><tspan dy="-4.3" font-size="1">&#8203;</tspan></text>
<line x1="95.2" y1="326.7" x2="107.9" y2="326.7" stroke="#9a8b14" stroke-width="1.9" />
<text x="112.3" y="330.8" font-size="13.9" text-anchor="start" fill="#1a1a1a" >MEA CoNi</text>
<line x1="95.2" y1="345.1" x2="107.9" y2="345.1" stroke="#a3195b" stroke-width="1.9" />
<text x="112.3" y="349.7" font-size="13.9" text-anchor="start" fill="#1a1a1a" >MEA CoCrNi</text>
<line x1="95.2" y1="363.7" x2="107.9" y2="363.7" stroke="#1b5e2b" stroke-width="1.9" />
<text x="112.3" y="368.8" font-size="13.9" text-anchor="start" fill="#1a1a1a" >MEA CoFeNi</text>
<line x1="95.2" y1="382.4" x2="107.9" y2="382.4" stroke="#1f7fb0" stroke-width="1.9" />
<text x="112.3" y="387.5" font-size="13.9" text-anchor="start" fill="#1a1a1a" >MEA CoCrFeNi</text>
<line x1="225.4" y1="326.7" x2="238.7" y2="326.7" stroke="#4f7f2f" stroke-width="1.9" />
<text x="244.4" y="330.8" font-size="13.9" text-anchor="start" fill="#1a1a1a" >MEA CrFeNi</text>
<line x1="225.4" y1="344.8" x2="238.7" y2="344.8" stroke="#8b4a12" stroke-width="1.9" />
<text x="244.4" y="347.8" font-size="13.9" text-anchor="start" fill="#1a1a1a" >MEA CoMnNi</text>
<line x1="225.4" y1="363.6" x2="238.7" y2="363.6" stroke="#1f2757" stroke-width="1.9" />
<text x="244.4" y="365.4" font-size="13.9" text-anchor="start" fill="#1a1a1a" >MEA FeMnNi</text>
</g>
<g id="panelB">
<path d="M566 13.8 L590.6 13.8 C591.25 16.15 593.12 22.57 594.5 27.9 C595.88 33.23 597.42 39.82 598.9 45.8 C600.38 51.78 602.17 57.82 603.4 63.8 C604.63 69.78 605.67 75.73 606.3 81.7 C606.93 87.67 607.2 94.32 607.2 99.6 C607.2 104.88 606.93 108.85 606.3 113.4 C605.67 117.95 604.82 122.03 603.4 126.9 C601.98 131.77 600.03 137.38 597.8 142.6 C595.57 147.82 592.8 152.98 590 158.2 C587.2 163.42 583.8 168.67 581 173.9 C578.2 179.13 575.25 185.12 573.2 189.6 C571.15 194.08 569.75 197.5 568.7 200.8 C567.65 204.1 567.2 207.97 566.9 209.4 L566 209.4 Z" fill="#003f7f" stroke="#000" stroke-width="1"/>
<path d="M566 209.4 L574.2 209.4 C574.67 211.57 576.17 218.37 577 222.4 C577.83 226.43 578.37 229.5 579.2 233.6 C580.03 237.7 580.97 242.88 582 247 C583.03 251.12 584.08 254.55 585.4 258.3 C586.72 262.05 588.42 266.15 589.9 269.5 C591.38 272.85 592.72 274.67 594.3 278.4 C595.88 282.13 598.25 287.42 599.4 291.9 C600.55 296.38 600.98 300.82 601.2 305.3 C601.42 309.78 601.08 314.32 600.7 318.8 C600.32 323.28 599.6 327.63 598.9 332.2 C598.2 336.77 597.65 341.25 596.5 346.2 C595.35 351.15 593.65 356.67 592 361.9 C590.35 367.13 588.32 372.75 586.6 377.6 C584.88 382.45 583.1 386.47 581.7 391 C580.3 395.53 578.78 402.5 578.2 404.8 L566 404.8 Z" fill="#003f7f" stroke="#000" stroke-width="1"/>
<path d="M645.7 13.8 L662.5 13.8 C663.25 16.15 665.13 22.93 667 27.9 C668.87 32.87 671.47 38.37 673.7 43.6 C675.93 48.83 678.17 54.07 680.4 59.3 C682.63 64.53 685.05 70.15 687.1 75 C689.15 79.85 691.05 84.23 692.7 88.4 C694.35 92.57 696 96.2 697 100 C698 103.8 698.67 107.1 698.7 111.2 C698.73 115.3 698.2 120.5 697.2 124.6 C696.2 128.7 694.75 131.32 692.7 135.8 C690.65 140.28 687.88 146.27 684.9 151.5 C681.92 156.73 678.17 161.97 674.8 167.2 C671.43 172.43 667.87 178.05 664.7 182.9 C661.53 187.75 658.43 191.88 655.8 196.3 C653.17 200.72 650.05 207.22 648.9 209.4 L645.7 209.4 Z" fill="#31786f" stroke="#000" stroke-width="1"/>
<path d="M645.7 209.4 L653.3 209.4 C653.87 211.2 655.48 216.73 656.7 220.2 C657.92 223.67 659.27 227.13 660.6 230.2 C661.93 233.27 662.85 234.97 664.7 238.6 C666.55 242.23 669.6 247.6 671.7 252 C673.8 256.4 675.13 260.97 677.3 265 C679.47 269.03 682.6 272.47 684.7 276.2 C686.8 279.93 688.67 283.3 689.9 287.4 C691.13 291.5 691.7 296.32 692.1 300.8 C692.5 305.28 692.57 309.82 692.3 314.3 C692.03 318.78 691.85 323.6 690.5 327.7 C689.15 331.8 686.43 335.45 684.2 338.9 C681.97 342.35 680.02 344.2 677.1 348.4 C674.18 352.6 669.88 358.87 666.7 364.1 C663.52 369.33 660.5 374.95 658 379.8 C655.5 384.65 653.27 389.03 651.7 393.2 C650.13 397.37 649.12 402.87 648.6 404.8 L645.7 404.8 Z" fill="#31786f" stroke="#000" stroke-width="1"/>
<path d="M725.4 13.8 L738.8 13.8 C739.37 16.15 740.52 22.93 742.2 27.9 C743.88 32.87 746.85 38.37 748.9 43.6 C750.95 48.83 752.63 54.07 754.5 59.3 C756.37 64.53 758.23 70.15 760.1 75 C761.97 79.85 764.08 84.23 765.7 88.4 C767.32 92.57 768.92 95.83 769.8 100 C770.68 104.17 770.93 108.92 771 113.4 C771.07 117.88 770.7 122.03 770.2 126.9 C769.7 131.77 769.12 137.75 768 142.6 C766.88 147.45 765.57 151.52 763.5 156 C761.43 160.48 758.58 165.02 755.6 169.5 C752.62 173.98 748.77 178.43 745.6 182.9 C742.43 187.37 739.4 191.88 736.6 196.3 C733.8 200.72 730.1 207.22 728.8 209.4 L725.4 209.4 Z" fill="#00b050" stroke="#000" stroke-width="1"/>
<path d="M725.4 209.4 L734.6 209.4 C735.15 211.57 736.6 218 737.9 222.4 C739.2 226.8 740.72 231.7 742.4 235.8 C744.08 239.9 745.95 243.25 748 247 C750.05 250.75 752.63 254.75 754.7 258.3 C756.77 261.85 758.5 264.68 760.4 268.3 C762.3 271.92 764.43 276.45 766.1 280 C767.77 283.55 768.9 286.5 770.4 289.6 C771.9 292.7 774 295.95 775.1 298.6 C776.2 301.25 776.9 303.27 777 305.5 C777.1 307.73 776.83 308.67 775.7 312 C774.57 315.33 772.25 321.38 770.2 325.5 C768.15 329.62 765.8 333.25 763.4 336.7 C761 340.15 758.58 342 755.8 346.2 C753.02 350.4 749.72 356.67 746.7 361.9 C743.68 367.13 740.32 372.75 737.7 377.6 C735.08 382.45 732.75 386.47 731 391 C729.25 395.53 727.83 402.5 727.2 404.8 L725.4 404.8 Z" fill="#00b050" stroke="#000" stroke-width="1"/>
<path d="M805.1 13.8 L817.4 13.8 C817.88 16.15 818.98 22.93 820.3 27.9 C821.62 32.87 823.35 38.37 825.3 43.6 C827.25 48.83 829.77 54.07 832 59.3 C834.23 64.53 836.47 69.77 838.7 75 C840.93 80.23 843.72 86.53 845.4 90.7 C847.08 94.87 847.48 96.22 848.8 100 C850.12 103.78 852.18 108.92 853.3 113.4 C854.42 117.88 855.1 123.53 855.5 126.9 C855.9 130.27 855.97 130.62 855.7 133.6 C855.43 136.58 855.05 140.7 853.9 144.8 C852.75 148.9 851.15 153.72 848.8 158.2 C846.45 162.68 843.17 167.22 839.8 171.7 C836.43 176.18 832.33 180.62 828.6 185.1 C824.87 189.58 820.58 194.55 817.4 198.6 C814.22 202.65 810.82 207.6 809.5 209.4 L805.1 209.4 Z" fill="#76d62b" stroke="#000" stroke-width="1"/>
<path d="M805.1 209.4 L813.7 209.4 C814.35 211.38 816.2 217.83 817.6 221.3 C819 224.77 820.42 226.85 822.1 230.2 C823.78 233.55 825.83 237.28 827.7 241.4 C829.57 245.52 831.13 250.97 833.3 254.9 C835.47 258.83 838.15 261.45 840.7 265 C843.25 268.55 846.32 272.47 848.6 276.2 C850.88 279.93 852.78 283.67 854.4 287.4 C856.02 291.13 857.55 295.8 858.3 298.6 C859.05 301.4 859 301.97 858.9 304.2 C858.8 306.43 858.63 309.02 857.7 312 C856.77 314.98 855.17 318.73 853.3 322.1 C851.43 325.47 850.05 327.82 846.5 332.2 C842.95 336.58 836.1 343.08 832 348.4 C827.9 353.72 825.08 358.87 821.9 364.1 C818.72 369.33 815.13 375.32 812.9 379.8 C810.67 384.28 809.62 386.83 808.5 391 C807.38 395.17 806.58 402.5 806.2 404.8 L805.1 404.8 Z" fill="#76d62b" stroke="#000" stroke-width="1"/>
<path d="M884.8 13.8 L896 13.8 C896.45 16.15 897.68 22.93 898.7 27.9 C899.72 32.87 900.6 38.37 902.1 43.6 C903.6 48.83 905.65 54.07 907.7 59.3 C909.75 64.53 912.17 69.77 914.4 75 C916.63 80.23 919.13 86.53 921.1 90.7 C923.07 94.87 924.15 96.22 926.2 100 C928.25 103.78 931.27 108.92 933.4 113.4 C935.53 117.88 937.77 122.78 939 126.9 C940.23 131.02 940.62 134.75 940.8 138.1 C940.98 141.45 940.95 143.65 940.1 147 C939.25 150.35 937.93 154.08 935.7 158.2 C933.47 162.32 930.25 167.22 926.7 171.7 C923.15 176.18 918.5 180.62 914.4 185.1 C910.3 189.58 905.87 194.55 902.1 198.6 C898.33 202.65 893.52 207.6 891.8 209.4 L884.8 209.4 Z" fill="#ffff00" stroke="#000" stroke-width="1"/>
<path d="M884.8 209.4 L893.2 209.4 C893.85 211.2 895.7 216.73 897.1 220.2 C898.5 223.67 900.18 227.35 901.6 230.2 C903.02 233.05 903.4 233.67 905.6 237.3 C907.8 240.93 912.17 247.38 914.8 252 C917.43 256.62 919.05 260.97 921.4 265 C923.75 269.03 926.72 272.47 928.9 276.2 C931.08 279.93 933.08 283.67 934.5 287.4 C935.92 291.13 936.88 295.43 937.4 298.6 C937.92 301.77 937.88 303.6 937.6 306.4 C937.32 309.2 936.95 312.22 935.7 315.4 C934.45 318.58 932.35 321.95 930.1 325.5 C927.85 329.05 925.2 333.07 922.2 336.7 C919.2 340.33 915.65 343.1 912.1 347.3 C908.55 351.5 904.25 356.85 900.9 361.9 C897.55 366.95 894.23 372.75 892 377.6 C889.77 382.45 888.55 386.47 887.5 391 C886.45 395.53 886 402.5 885.7 404.8 L884.8 404.8 Z" fill="#ffff00" stroke="#000" stroke-width="1"/>
<line x1="566" y1="13.2" x2="566" y2="405.4" stroke="#000" stroke-width="1.4" />
<line x1="566" y1="191.62" x2="571.2" y2="191.62" stroke="#000" stroke-width="1.2" />
<line x1="566" y1="173.84" x2="569" y2="173.84" stroke="#000" stroke-width="1.2" />
<line x1="566" y1="156.05" x2="571.2" y2="156.05" stroke="#000" stroke-width="1.2" />
<line x1="566" y1="138.27" x2="569" y2="138.27" stroke="#000" stroke-width="1.2" />
<line x1="566" y1="120.49" x2="571.2" y2="120.49" stroke="#000" stroke-width="1.2" />
<line x1="566" y1="102.71" x2="569" y2="102.71" stroke="#000" stroke-width="1.2" />
<line x1="566" y1="84.93" x2="571.2" y2="84.93" stroke="#000" stroke-width="1.2" />
<line x1="566" y1="67.15" x2="569" y2="67.15" stroke="#000" stroke-width="1.2" />
<line x1="566" y1="49.36" x2="571.2" y2="49.36" stroke="#000" stroke-width="1.2" />
<line x1="566" y1="31.58" x2="569" y2="31.58" stroke="#000" stroke-width="1.2" />
<line x1="566" y1="13.8" x2="571.2" y2="13.8" stroke="#000" stroke-width="1.2" />
<line x1="566" y1="404.24" x2="571.2" y2="404.24" stroke="#000" stroke-width="1.2" />
<line x1="566" y1="382.68" x2="569" y2="382.68" stroke="#000" stroke-width="1.2" />
<line x1="566" y1="361.12" x2="571.2" y2="361.12" stroke="#000" stroke-width="1.2" />
<line x1="566" y1="339.56" x2="569" y2="339.56" stroke="#000" stroke-width="1.2" />
<line x1="566" y1="318" x2="571.2" y2="318" stroke="#000" stroke-width="1.2" />
<line x1="566" y1="296.44" x2="569" y2="296.44" stroke="#000" stroke-width="1.2" />
<line x1="566" y1="274.88" x2="571.2" y2="274.88" stroke="#000" stroke-width="1.2" />
<line x1="566" y1="253.32" x2="569" y2="253.32" stroke="#000" stroke-width="1.2" />
<line x1="566" y1="231.76" x2="571.2" y2="231.76" stroke="#000" stroke-width="1.2" />
<line x1="592.5" y1="404.8" x2="592.5" y2="401.3" stroke="#000" stroke-width="1.2" />
<line x1="619" y1="404.8" x2="619" y2="399.3" stroke="#000" stroke-width="1.2" />
<line x1="645.7" y1="13.2" x2="645.7" y2="405.4" stroke="#000" stroke-width="1.4" />
<line x1="645.7" y1="191.62" x2="650.9" y2="191.62" stroke="#000" stroke-width="1.2" />
<line x1="645.7" y1="173.84" x2="648.7" y2="173.84" stroke="#000" stroke-width="1.2" />
<line x1="645.7" y1="156.05" x2="650.9" y2="156.05" stroke="#000" stroke-width="1.2" />
<line x1="645.7" y1="138.27" x2="648.7" y2="138.27" stroke="#000" stroke-width="1.2" />
<line x1="645.7" y1="120.49" x2="650.9" y2="120.49" stroke="#000" stroke-width="1.2" />
<line x1="645.7" y1="102.71" x2="648.7" y2="102.71" stroke="#000" stroke-width="1.2" />
<line x1="645.7" y1="84.93" x2="650.9" y2="84.93" stroke="#000" stroke-width="1.2" />
<line x1="645.7" y1="67.15" x2="648.7" y2="67.15" stroke="#000" stroke-width="1.2" />
<line x1="645.7" y1="49.36" x2="650.9" y2="49.36" stroke="#000" stroke-width="1.2" />
<line x1="645.7" y1="31.58" x2="648.7" y2="31.58" stroke="#000" stroke-width="1.2" />
<line x1="645.7" y1="13.8" x2="650.9" y2="13.8" stroke="#000" stroke-width="1.2" />
<line x1="645.7" y1="404.24" x2="650.9" y2="404.24" stroke="#000" stroke-width="1.2" />
<line x1="645.7" y1="382.68" x2="648.7" y2="382.68" stroke="#000" stroke-width="1.2" />
<line x1="645.7" y1="361.12" x2="650.9" y2="361.12" stroke="#000" stroke-width="1.2" />
<line x1="645.7" y1="339.56" x2="648.7" y2="339.56" stroke="#000" stroke-width="1.2" />
<line x1="645.7" y1="318" x2="650.9" y2="318" stroke="#000" stroke-width="1.2" />
<line x1="645.7" y1="296.44" x2="648.7" y2="296.44" stroke="#000" stroke-width="1.2" />
<line x1="645.7" y1="274.88" x2="650.9" y2="274.88" stroke="#000" stroke-width="1.2" />
<line x1="645.7" y1="253.32" x2="648.7" y2="253.32" stroke="#000" stroke-width="1.2" />
<line x1="645.7" y1="231.76" x2="650.9" y2="231.76" stroke="#000" stroke-width="1.2" />
<line x1="672.2" y1="404.8" x2="672.2" y2="401.3" stroke="#000" stroke-width="1.2" />
<line x1="698.7" y1="404.8" x2="698.7" y2="399.3" stroke="#000" stroke-width="1.2" />
<line x1="725.4" y1="13.2" x2="725.4" y2="405.4" stroke="#000" stroke-width="1.4" />
<line x1="725.4" y1="191.62" x2="730.6" y2="191.62" stroke="#000" stroke-width="1.2" />
<line x1="725.4" y1="173.84" x2="728.4" y2="173.84" stroke="#000" stroke-width="1.2" />
<line x1="725.4" y1="156.05" x2="730.6" y2="156.05" stroke="#000" stroke-width="1.2" />
<line x1="725.4" y1="138.27" x2="728.4" y2="138.27" stroke="#000" stroke-width="1.2" />
<line x1="725.4" y1="120.49" x2="730.6" y2="120.49" stroke="#000" stroke-width="1.2" />
<line x1="725.4" y1="102.71" x2="728.4" y2="102.71" stroke="#000" stroke-width="1.2" />
<line x1="725.4" y1="84.93" x2="730.6" y2="84.93" stroke="#000" stroke-width="1.2" />
<line x1="725.4" y1="67.15" x2="728.4" y2="67.15" stroke="#000" stroke-width="1.2" />
<line x1="725.4" y1="49.36" x2="730.6" y2="49.36" stroke="#000" stroke-width="1.2" />
<line x1="725.4" y1="31.58" x2="728.4" y2="31.58" stroke="#000" stroke-width="1.2" />
<line x1="725.4" y1="13.8" x2="730.6" y2="13.8" stroke="#000" stroke-width="1.2" />
<line x1="725.4" y1="404.24" x2="730.6" y2="404.24" stroke="#000" stroke-width="1.2" />
<line x1="725.4" y1="382.68" x2="728.4" y2="382.68" stroke="#000" stroke-width="1.2" />
<line x1="725.4" y1="361.12" x2="730.6" y2="361.12" stroke="#000" stroke-width="1.2" />
<line x1="725.4" y1="339.56" x2="728.4" y2="339.56" stroke="#000" stroke-width="1.2" />
<line x1="725.4" y1="318" x2="730.6" y2="318" stroke="#000" stroke-width="1.2" />
<line x1="725.4" y1="296.44" x2="728.4" y2="296.44" stroke="#000" stroke-width="1.2" />
<line x1="725.4" y1="274.88" x2="730.6" y2="274.88" stroke="#000" stroke-width="1.2" />
<line x1="725.4" y1="253.32" x2="728.4" y2="253.32" stroke="#000" stroke-width="1.2" />
<line x1="725.4" y1="231.76" x2="730.6" y2="231.76" stroke="#000" stroke-width="1.2" />
<line x1="751.9" y1="404.8" x2="751.9" y2="401.3" stroke="#000" stroke-width="1.2" />
<line x1="778.4" y1="404.8" x2="778.4" y2="399.3" stroke="#000" stroke-width="1.2" />
<line x1="805.1" y1="13.2" x2="805.1" y2="405.4" stroke="#000" stroke-width="1.4" />
<line x1="805.1" y1="191.62" x2="810.3" y2="191.62" stroke="#000" stroke-width="1.2" />
<line x1="805.1" y1="173.84" x2="808.1" y2="173.84" stroke="#000" stroke-width="1.2" />
<line x1="805.1" y1="156.05" x2="810.3" y2="156.05" stroke="#000" stroke-width="1.2" />
<line x1="805.1" y1="138.27" x2="808.1" y2="138.27" stroke="#000" stroke-width="1.2" />
<line x1="805.1" y1="120.49" x2="810.3" y2="120.49" stroke="#000" stroke-width="1.2" />
<line x1="805.1" y1="102.71" x2="808.1" y2="102.71" stroke="#000" stroke-width="1.2" />
<line x1="805.1" y1="84.93" x2="810.3" y2="84.93" stroke="#000" stroke-width="1.2" />
<line x1="805.1" y1="67.15" x2="808.1" y2="67.15" stroke="#000" stroke-width="1.2" />
<line x1="805.1" y1="49.36" x2="810.3" y2="49.36" stroke="#000" stroke-width="1.2" />
<line x1="805.1" y1="31.58" x2="808.1" y2="31.58" stroke="#000" stroke-width="1.2" />
<line x1="805.1" y1="13.8" x2="810.3" y2="13.8" stroke="#000" stroke-width="1.2" />
<line x1="805.1" y1="404.24" x2="810.3" y2="404.24" stroke="#000" stroke-width="1.2" />
<line x1="805.1" y1="382.68" x2="808.1" y2="382.68" stroke="#000" stroke-width="1.2" />
<line x1="805.1" y1="361.12" x2="810.3" y2="361.12" stroke="#000" stroke-width="1.2" />
<line x1="805.1" y1="339.56" x2="808.1" y2="339.56" stroke="#000" stroke-width="1.2" />
<line x1="805.1" y1="318" x2="810.3" y2="318" stroke="#000" stroke-width="1.2" />
<line x1="805.1" y1="296.44" x2="808.1" y2="296.44" stroke="#000" stroke-width="1.2" />
<line x1="805.1" y1="274.88" x2="810.3" y2="274.88" stroke="#000" stroke-width="1.2" />
<line x1="805.1" y1="253.32" x2="808.1" y2="253.32" stroke="#000" stroke-width="1.2" />
<line x1="805.1" y1="231.76" x2="810.3" y2="231.76" stroke="#000" stroke-width="1.2" />
<line x1="831.6" y1="404.8" x2="831.6" y2="401.3" stroke="#000" stroke-width="1.2" />
<line x1="858.1" y1="404.8" x2="858.1" y2="399.3" stroke="#000" stroke-width="1.2" />
<line x1="884.8" y1="13.2" x2="884.8" y2="405.4" stroke="#000" stroke-width="1.4" />
<line x1="884.8" y1="191.62" x2="890" y2="191.62" stroke="#000" stroke-width="1.2" />
<line x1="884.8" y1="173.84" x2="887.8" y2="173.84" stroke="#000" stroke-width="1.2" />
<line x1="884.8" y1="156.05" x2="890" y2="156.05" stroke="#000" stroke-width="1.2" />
<line x1="884.8" y1="138.27" x2="887.8" y2="138.27" stroke="#000" stroke-width="1.2" />
<line x1="884.8" y1="120.49" x2="890" y2="120.49" stroke="#000" stroke-width="1.2" />
<line x1="884.8" y1="102.71" x2="887.8" y2="102.71" stroke="#000" stroke-width="1.2" />
<line x1="884.8" y1="84.93" x2="890" y2="84.93" stroke="#000" stroke-width="1.2" />
<line x1="884.8" y1="67.15" x2="887.8" y2="67.15" stroke="#000" stroke-width="1.2" />
<line x1="884.8" y1="49.36" x2="890" y2="49.36" stroke="#000" stroke-width="1.2" />
<line x1="884.8" y1="31.58" x2="887.8" y2="31.58" stroke="#000" stroke-width="1.2" />
<line x1="884.8" y1="13.8" x2="890" y2="13.8" stroke="#000" stroke-width="1.2" />
<line x1="884.8" y1="404.24" x2="890" y2="404.24" stroke="#000" stroke-width="1.2" />
<line x1="884.8" y1="382.68" x2="887.8" y2="382.68" stroke="#000" stroke-width="1.2" />
<line x1="884.8" y1="361.12" x2="890" y2="361.12" stroke="#000" stroke-width="1.2" />
<line x1="884.8" y1="339.56" x2="887.8" y2="339.56" stroke="#000" stroke-width="1.2" />
<line x1="884.8" y1="318" x2="890" y2="318" stroke="#000" stroke-width="1.2" />
<line x1="884.8" y1="296.44" x2="887.8" y2="296.44" stroke="#000" stroke-width="1.2" />
<line x1="884.8" y1="274.88" x2="890" y2="274.88" stroke="#000" stroke-width="1.2" />
<line x1="884.8" y1="253.32" x2="887.8" y2="253.32" stroke="#000" stroke-width="1.2" />
<line x1="884.8" y1="231.76" x2="890" y2="231.76" stroke="#000" stroke-width="1.2" />
<line x1="911.3" y1="404.8" x2="911.3" y2="401.3" stroke="#000" stroke-width="1.2" />
<line x1="937.8" y1="404.8" x2="937.8" y2="399.3" stroke="#000" stroke-width="1.2" />
<line x1="566" y1="209.4" x2="964.6" y2="209.4" stroke="#000" stroke-width="1.3" />
<line x1="566" y1="404.8" x2="964.6" y2="404.8" stroke="#000" stroke-width="1.3" />
<rect x="963.4" y="208.2" width="2.4" height="2.4" fill="#000"/>
<rect x="963.4" y="403.6" width="2.4" height="2.4" fill="#000"/>
<path d="M570.5 64.8 C583.08 66.93 620.25 73.43 646 77.6 C671.75 81.77 698.5 86.33 725 89.8 C751.5 93.27 778.33 95.88 805 98.4 C831.67 100.92 865.67 103.47 885 104.9 C904.33 106.33 915 106.65 921 107" fill="none" stroke="#f40000" stroke-width="1.2"/>
<polygon points="926.5,107.3 917.8,103.6 919.6,107 917.4,110.2" fill="#f00000"/>
<circle cx="570.5" cy="65.5" r="3.6" fill="#f47c7c" stroke="#4a0808" stroke-width="1.25"/>
<circle cx="570.5" cy="65.5" r="0.8" fill="#b00000"/>
<circle cx="650.8" cy="85.6" r="3.6" fill="#f47c7c" stroke="#4a0808" stroke-width="1.25"/>
<circle cx="650.8" cy="85.6" r="0.8" fill="#b00000"/>
<circle cx="729.9" cy="90.8" r="3.6" fill="#f47c7c" stroke="#4a0808" stroke-width="1.25"/>
<circle cx="729.9" cy="90.8" r="0.8" fill="#b00000"/>
<circle cx="809.5" cy="94.9" r="3.6" fill="#f47c7c" stroke="#4a0808" stroke-width="1.25"/>
<circle cx="809.5" cy="94.9" r="0.8" fill="#b00000"/>
<circle cx="888.9" cy="103.7" r="3.6" fill="#f47c7c" stroke="#4a0808" stroke-width="1.25"/>
<circle cx="888.9" cy="103.7" r="0.8" fill="#b00000"/>
<line x1="570.3" y1="305" x2="922" y2="287.1" stroke="#6ff8fb" stroke-width="3.2"/>
<polygon points="930.6,286.7 912.1,279.4 921.5,287.3 914.3,295.3" fill="#6ff8fb"/>
<rect x="567.2" y="302.8" width="6.2" height="5.6" fill="#78f2f6" stroke="#0c3848" stroke-width="1.1"/>
<rect x="647.4" y="296.6" width="6.2" height="5.6" fill="#78f2f6" stroke="#0c3848" stroke-width="1.1"/>
<rect x="727.1" y="293.2" width="6.2" height="5.6" fill="#78f2f6" stroke="#0c3848" stroke-width="1.1"/>
<rect x="806.7" y="290" width="6.2" height="5.6" fill="#78f2f6" stroke="#0c3848" stroke-width="1.1"/>
<rect x="887.3" y="288.2" width="4.6" height="4.6" fill="#57c9d8" stroke="#0a3040" stroke-width="0.8"/>
<text x="559" y="20.4" font-size="16" text-anchor="end" fill="#1a1a1a" >12</text>
<text x="559" y="55.96" font-size="16" text-anchor="end" fill="#1a1a1a" >10</text>
<text x="559" y="91.53" font-size="16" text-anchor="end" fill="#1a1a1a" >8</text>
<text x="559" y="127.09" font-size="16" text-anchor="end" fill="#1a1a1a" >6</text>
<text x="559" y="162.65" font-size="16" text-anchor="end" fill="#1a1a1a" >4</text>
<text x="559" y="198.22" font-size="16" text-anchor="end" fill="#1a1a1a" >2</text>
<text x="561.8" y="237.96" font-size="16" text-anchor="end" fill="#1a1a1a" >4</text>
<text x="561.8" y="281.08" font-size="16" text-anchor="end" fill="#1a1a1a" >2</text>
<text x="561.8" y="324.2" font-size="16" text-anchor="end" fill="#1a1a1a" >0</text>
<text x="561.8" y="367.32" font-size="16" text-anchor="end" fill="#1a1a1a" >-2</text>
<text x="560.5" y="411.24" font-size="16" text-anchor="end" fill="#1a1a1a" >-4</text>
<text x="564.5" y="422.6" font-size="16" text-anchor="middle" fill="#1a1a1a" >0</text>
<text x="617.8" y="422.6" font-size="16" text-anchor="middle" fill="#1a1a1a" >0.2</text>
<text x="644.2" y="422.6" font-size="16" text-anchor="middle" fill="#1a1a1a" >0</text>
<text x="697.5" y="422.6" font-size="16" text-anchor="middle" fill="#1a1a1a" >0.2</text>
<text x="723.9" y="422.6" font-size="16" text-anchor="middle" fill="#1a1a1a" >0</text>
<text x="777.2" y="422.6" font-size="16" text-anchor="middle" fill="#1a1a1a" >0.2</text>
<text x="803.6" y="422.6" font-size="16" text-anchor="middle" fill="#1a1a1a" >0</text>
<text x="856.9" y="422.6" font-size="16" text-anchor="middle" fill="#1a1a1a" >0.2</text>
<text x="883.3" y="422.6" font-size="16" text-anchor="middle" fill="#1a1a1a" >0</text>
<text x="936.6" y="422.6" font-size="16" text-anchor="middle" fill="#1a1a1a" >0.2</text>
<text x="762.5" y="447" font-size="16" text-anchor="middle" fill="#1a1a1a" >Frequency</text>
<text x="636" y="31.6" font-size="16" text-anchor="end" fill="#1a1a1a" >0 K</text>
<text x="718" y="31.6" font-size="16" text-anchor="end" fill="#1a1a1a" >300 K</text>
<text x="797.8" y="31.6" font-size="16" text-anchor="end" fill="#1a1a1a" >500 K</text>
<text x="877.1" y="31.6" font-size="16" text-anchor="end" fill="#1a1a1a" >700 K</text>
<text x="956.4" y="31.6" font-size="16" text-anchor="end" fill="#1a1a1a" >900 K</text>
<text transform="translate(523.6,120.5) rotate(-90)" font-size="16.3" text-anchor="middle" fill="#1a1a1a" textLength="152" lengthAdjust="spacingAndGlyphs">Von Mises strain (%)</text>
<text transform="translate(523.6,317.6) rotate(-90)" font-size="16.3" text-anchor="middle" fill="#1a1a1a" textLength="153" lengthAdjust="spacingAndGlyphs">Volumetric strain (%)</text>
<text x="511.5" y="21.6" font-size="18" font-weight="bold" fill="#000" stroke="#000" stroke-width="0.5">b</text>
</g>
<g id="panelC">
<line x1="75.4" y1="555" x2="473.5" y2="555" stroke="#0000ff" stroke-width="2.2" stroke-dasharray="8.9 8.1" stroke-dashoffset="2.1"/>
<line x1="75.4" y1="559" x2="473.5" y2="559" stroke="#ff0000" stroke-width="2.2" stroke-dasharray="8.9 8.1" stroke-dashoffset="2.1"/>
<line x1="118.1" y1="564.6" x2="118.1" y2="583" stroke="#0000ff" stroke-width="1"/>
<polygon points="118.1,565.8 126.1,573.8 118.1,581.8 110.1,573.8" fill="#fff" stroke="#0000ff" stroke-width="1.1"/>
<polygon points="118.1,565.8 118.1,581.8 110.1,573.8" fill="#0000ff"/>
<line x1="206.39" y1="549.4" x2="206.39" y2="567.8" stroke="#0000ff" stroke-width="1"/>
<polygon points="206.39,550.6 214.39,558.6 206.39,566.6 198.39,558.6" fill="#fff" stroke="#0000ff" stroke-width="1.1"/>
<polygon points="206.39,550.6 206.39,566.6 198.39,558.6" fill="#0000ff"/>
<line x1="265.25" y1="539.1" x2="265.25" y2="557.5" stroke="#0000ff" stroke-width="1"/>
<polygon points="265.25,540.3 273.25,548.3 265.25,556.3 257.25,548.3" fill="#fff" stroke="#0000ff" stroke-width="1.1"/>
<polygon points="265.25,540.3 265.25,556.3 257.25,548.3" fill="#0000ff"/>
<line x1="324.11" y1="536.9" x2="324.11" y2="555.3" stroke="#0000ff" stroke-width="1"/>
<polygon points="324.11,538.1 332.11,546.1 324.11,554.1 316.11,546.1" fill="#fff" stroke="#0000ff" stroke-width="1.1"/>
<polygon points="324.11,538.1 324.11,554.1 316.11,546.1" fill="#0000ff"/>
<line x1="382.97" y1="538.9" x2="382.97" y2="557.3" stroke="#0000ff" stroke-width="1"/>
<polygon points="382.97,540.1 390.97,548.1 382.97,556.1 374.97,548.1" fill="#fff" stroke="#0000ff" stroke-width="1.1"/>
<polygon points="382.97,540.1 382.97,556.1 374.97,548.1" fill="#0000ff"/>
<line x1="412.4" y1="545.8" x2="412.4" y2="564.2" stroke="#0000ff" stroke-width="1"/>
<polygon points="412.4,547 420.4,555 412.4,563 404.4,555" fill="#fff" stroke="#0000ff" stroke-width="1.1"/>
<polygon points="412.4,547 412.4,563 404.4,555" fill="#0000ff"/>
<rect x="112.4" y="568.3" width="11.4" height="11.4" fill="#fff" stroke="#ff0000" stroke-width="1.2"/>
<rect x="117.6" y="568.3" width="6.2" height="11.4" fill="#ff0000"/>
<rect x="200.69" y="538.3" width="11.4" height="11.4" fill="#fff" stroke="#ff0000" stroke-width="1.2"/>
<rect x="205.89" y="538.3" width="6.2" height="11.4" fill="#ff0000"/>
<rect x="259.55" y="541.6" width="11.4" height="11.4" fill="#fff" stroke="#ff0000" stroke-width="1.2"/>
<rect x="264.75" y="541.6" width="6.2" height="11.4" fill="#ff0000"/>
<rect x="318.41" y="569.3" width="11.4" height="11.4" fill="#fff" stroke="#ff0000" stroke-width="1.2"/>
<rect x="323.61" y="569.3" width="6.2" height="11.4" fill="#ff0000"/>
<rect x="377.27" y="552.9" width="11.4" height="11.4" fill="#fff" stroke="#ff0000" stroke-width="1.2"/>
<rect x="382.47" y="552.9" width="6.2" height="11.4" fill="#ff0000"/>
<rect x="406.7" y="550.8" width="11.4" height="11.4" fill="#fff" stroke="#ff0000" stroke-width="1.2"/>
<rect x="411.9" y="550.8" width="6.2" height="11.4" fill="#ff0000"/>
<line x1="324.61" y1="543.5" x2="326.67" y2="543.5" stroke="#0000ff" stroke-width="0.9"/>
<line x1="324.61" y1="546.1" x2="327.71" y2="546.1" stroke="#0000ff" stroke-width="0.9"/>
<line x1="324.61" y1="548.7" x2="326.67" y2="548.7" stroke="#0000ff" stroke-width="0.9"/>
<line x1="383.47" y1="545.5" x2="385.53" y2="545.5" stroke="#0000ff" stroke-width="0.9"/>
<line x1="383.47" y1="548.1" x2="386.57" y2="548.1" stroke="#0000ff" stroke-width="0.9"/>
<line x1="383.47" y1="550.7" x2="385.53" y2="550.7" stroke="#0000ff" stroke-width="0.9"/>
<line x1="320.91" y1="571.6" x2="323.61" y2="571.6" stroke="#ff0000" stroke-width="0.9"/>
<line x1="320.91" y1="575" x2="323.61" y2="575" stroke="#ff0000" stroke-width="0.9"/>
<line x1="320.91" y1="578.4" x2="323.61" y2="578.4" stroke="#ff0000" stroke-width="0.9"/>
<line x1="409.2" y1="553.1" x2="411.9" y2="553.1" stroke="#ff0000" stroke-width="0.9"/>
<line x1="409.2" y1="556.5" x2="411.9" y2="556.5" stroke="#ff0000" stroke-width="0.9"/>
<line x1="409.2" y1="559.9" x2="411.9" y2="559.9" stroke="#ff0000" stroke-width="0.9"/>
<line x1="74.4" y1="470.7" x2="74.4" y2="666.75" stroke="#000" stroke-width="1.5" />
<line x1="73.65" y1="666" x2="471.96" y2="666" stroke="#000" stroke-width="1.5" />
<line x1="74.4" y1="666" x2="82.7" y2="666" stroke="#000" stroke-width="1.5" />
<line x1="74.4" y1="641.67" x2="79.2" y2="641.67" stroke="#000" stroke-width="1.5" />
<line x1="74.4" y1="617.35" x2="82.7" y2="617.35" stroke="#000" stroke-width="1.5" />
<line x1="74.4" y1="593.02" x2="79.2" y2="593.02" stroke="#000" stroke-width="1.5" />
<line x1="74.4" y1="568.7" x2="82.7" y2="568.7" stroke="#000" stroke-width="1.5" />
<line x1="74.4" y1="544.37" x2="79.2" y2="544.37" stroke="#000" stroke-width="1.5" />
<line x1="74.4" y1="520.04" x2="82.7" y2="520.04" stroke="#000" stroke-width="1.5" />
<line x1="74.4" y1="495.72" x2="79.2" y2="495.72" stroke="#000" stroke-width="1.5" />
<line x1="74.4" y1="471.39" x2="82.7" y2="471.39" stroke="#000" stroke-width="1.5" />
<line x1="118.1" y1="666" x2="118.1" y2="657.7" stroke="#000" stroke-width="1.5" />
<line x1="162.25" y1="666" x2="162.25" y2="661.2" stroke="#000" stroke-width="1.5" />
<line x1="206.39" y1="666" x2="206.39" y2="657.7" stroke="#000" stroke-width="1.5" />
<line x1="250.53" y1="666" x2="250.53" y2="661.2" stroke="#000" stroke-width="1.5" />
<line x1="294.68" y1="666" x2="294.68" y2="657.7" stroke="#000" stroke-width="1.5" />
<line x1="338.82" y1="666" x2="338.82" y2="661.2" stroke="#000" stroke-width="1.5" />
<line x1="382.97" y1="666" x2="382.97" y2="657.7" stroke="#000" stroke-width="1.5" />
<line x1="427.12" y1="666" x2="427.12" y2="661.2" stroke="#000" stroke-width="1.5" />
<line x1="471.26" y1="666" x2="471.26" y2="657.7" stroke="#000" stroke-width="1.5" />
<text x="68" y="477.09" font-size="16" text-anchor="end" fill="#1a1a1a" >160</text>
<text x="68" y="525.74" font-size="16" text-anchor="end" fill="#1a1a1a" >120</text>
<text x="68" y="574.4" font-size="16" text-anchor="end" fill="#1a1a1a" >80</text>
<text x="68" y="623.05" font-size="16" text-anchor="end" fill="#1a1a1a" >40</text>
<text x="68" y="670.7" font-size="16" text-anchor="end" fill="#1a1a1a" >0</text>
<text x="118.1" y="682" font-size="16" text-anchor="middle" fill="#1a1a1a" >0</text>
<text x="206.39" y="682" font-size="16" text-anchor="middle" fill="#1a1a1a" >300</text>
<text x="294.68" y="682" font-size="16" text-anchor="middle" fill="#1a1a1a" >600</text>
<text x="382.97" y="682" font-size="16" text-anchor="middle" fill="#1a1a1a" >900</text>
<text x="473.26" y="682" font-size="16" text-anchor="middle" fill="#1a1a1a" >1,200</text>
<text x="270" y="705.4" font-size="16" text-anchor="middle" fill="#1a1a1a" >Temperature (K)</text>
<text transform="translate(24.0,576.7) rotate(-90)" font-size="16" text-anchor="middle" fill="#1a1a1a"><tspan font-style="italic">E</tspan><tspan font-size="11" dy="5">111</tspan><tspan dy="-5"> (GPa)</tspan></text>
<text x="13.3" y="477.5" font-size="18" font-weight="bold" fill="#000" stroke="#000" stroke-width="0.5">c</text>
<line x1="361" y1="612.3" x2="361" y2="630.7" stroke="#0000ff" stroke-width="1"/>
<polygon points="361,613.5 369,621.5 361,629.5 353,621.5" fill="#fff" stroke="#0000ff" stroke-width="1.1"/>
<polygon points="361,613.5 361,629.5 353,621.5" fill="#0000ff"/>
<rect x="355.3" y="638.5" width="11.4" height="11.4" fill="#fff" stroke="#ff0000" stroke-width="1.2"/>
<rect x="360.5" y="638.5" width="6.2" height="11.4" fill="#ff0000"/>
<text x="375.6" y="626.6" font-size="16" text-anchor="start" fill="#1a1a1a" >Model II</text>
<text x="375.6" y="649.8" font-size="16" text-anchor="start" fill="#1a1a1a" >Model III</text>
</g>
<g id="panelD">
<defs>
<radialGradient id="gBlue" cx="0.5" cy="0.5" r="0.5"><stop offset="0" stop-color="#c4c4fc"/><stop offset="0.18" stop-color="#b0b0f5"/><stop offset="0.48" stop-color="#6262d8"/><stop offset="0.8" stop-color="#4848c0"/><stop offset="0.93" stop-color="#3c3cac"/><stop offset="1" stop-color="#2c2c8c"/></radialGradient>
<radialGradient id="gGreen" cx="0.5" cy="0.5" r="0.5"><stop offset="0" stop-color="#d4ffd4"/><stop offset="0.18" stop-color="#94f894"/><stop offset="0.48" stop-color="#1ad41a"/><stop offset="0.8" stop-color="#00b000"/><stop offset="0.93" stop-color="#009800"/><stop offset="1" stop-color="#007000"/></radialGradient>
<radialGradient id="gOlive" cx="0.5" cy="0.5" r="0.5"><stop offset="0" stop-color="#fdfdb8"/><stop offset="0.18" stop-color="#f2f2a0"/><stop offset="0.48" stop-color="#c4c45c"/><stop offset="0.8" stop-color="#a0a046"/><stop offset="0.93" stop-color="#8c8c3a"/><stop offset="1" stop-color="#68682a"/></radialGradient>
<radialGradient id="gOrange" cx="0.5" cy="0.5" r="0.5"><stop offset="0" stop-color="#ffe6bc"/><stop offset="0.18" stop-color="#fcc078"/><stop offset="0.48" stop-color="#e88010"/><stop offset="0.8" stop-color="#cc6600"/><stop offset="0.93" stop-color="#b45800"/><stop offset="1" stop-color="#8c4400"/></radialGradient>
<radialGradient id="gRed" cx="0.5" cy="0.5" r="0.5"><stop offset="0" stop-color="#ffcccc"/><stop offset="0.18" stop-color="#ff8888"/><stop offset="0.48" stop-color="#f01818"/><stop offset="0.8" stop-color="#d20000"/><stop offset="0.93" stop-color="#b80000"/><stop offset="1" stop-color="#8c0000"/></radialGradient>
<linearGradient id="gTemp" x1="0" x2="1" y1="0" y2="0"><stop offset="0" stop-color="#16166e"/><stop offset="0.25" stop-color="#3c3868"/><stop offset="0.5" stop-color="#7c7640"/><stop offset="0.75" stop-color="#c8c418"/><stop offset="1" stop-color="#ffff00"/></linearGradient>
</defs>
<line x1="606" y1="501.7" x2="683.1" y2="501.7" stroke="#b4b4b4" stroke-width="1.4" stroke-dasharray="6 3.6"/>
<line x1="683.1" y1="501.7" x2="683.1" y2="577.2" stroke="#b4b4b4" stroke-width="1.4" stroke-dasharray="6 3.6"/>
<line x1="683.1" y1="577.2" x2="606" y2="577.2" stroke="#b4b4b4" stroke-width="1.4" stroke-dasharray="6 3.6"/>
<line x1="606" y1="577.2" x2="606" y2="501.7" stroke="#b4b4b4" stroke-width="1.4" stroke-dasharray="6 3.6"/>
<line x1="583.6" y1="527.5" x2="660.7" y2="527.5" stroke="#b4b4b4" stroke-width="1.4" stroke-dasharray="6 3.6"/>
<line x1="660.7" y1="527.5" x2="660.7" y2="601.5" stroke="#b4b4b4" stroke-width="1.4" stroke-dasharray="6 3.6"/>
<line x1="660.7" y1="601.5" x2="583.6" y2="601.5" stroke="#b4b4b4" stroke-width="1.4" stroke-dasharray="6 3.6"/>
<line x1="583.6" y1="601.5" x2="583.6" y2="527.5" stroke="#b4b4b4" stroke-width="1.4" stroke-dasharray="6 3.6"/>
<line x1="583.6" y1="527.5" x2="606" y2="501.7" stroke="#b4b4b4" stroke-width="1.4" stroke-dasharray="6 3.6"/>
<line x1="660.7" y1="527.5" x2="683.1" y2="501.7" stroke="#b4b4b4" stroke-width="1.4" stroke-dasharray="6 3.6"/>
<line x1="583.6" y1="601.5" x2="606" y2="577.2" stroke="#b4b4b4" stroke-width="1.4" stroke-dasharray="6 3.6"/>
<line x1="660.7" y1="601.5" x2="683.1" y2="577.2" stroke="#b4b4b4" stroke-width="1.4" stroke-dasharray="6 3.6"/>
<line x1="612.6" y1="495.9" x2="683.1" y2="491.5" stroke="#111" stroke-width="1.75" stroke-linecap="round"/>
<line x1="612.6" y1="495.6" x2="586.2" y2="526.7" stroke="#111" stroke-width="1.75" stroke-linecap="round"/>
<line x1="586.2" y1="533.5" x2="655.9" y2="528.7" stroke="#111" stroke-width="1.75" stroke-linecap="round"/>
<line x1="655.9" y1="524.4" x2="683.1" y2="496.4" stroke="#111" stroke-width="1.75" stroke-linecap="round"/>
<line x1="611.2" y1="498.8" x2="615.8" y2="565.6" stroke="#111" stroke-width="1.75" stroke-linecap="round"/>
<line x1="615.8" y1="565.1" x2="684.6" y2="574.7" stroke="#111" stroke-width="1.75" stroke-linecap="round"/>
<line x1="653.4" y1="528.6" x2="653.4" y2="606.3" stroke="#111" stroke-width="1.75" stroke-linecap="round"/>
<line x1="686.1" y1="498.5" x2="691.5" y2="577" stroke="#111" stroke-width="1.75" stroke-linecap="round"/>
<line x1="583.9" y1="527.2" x2="574.3" y2="590" stroke="#111" stroke-width="1.75" stroke-linecap="round"/>
<line x1="615.8" y1="566" x2="581.2" y2="590.2" stroke="#111" stroke-width="1.75" stroke-linecap="round"/>
<line x1="581.2" y1="598" x2="654.6" y2="608.2" stroke="#111" stroke-width="1.75" stroke-linecap="round"/>
<line x1="654.6" y1="607.6" x2="684.6" y2="580.9" stroke="#111" stroke-width="1.75" stroke-linecap="round"/>
<circle cx="612.6" cy="498.8" r="10.7" fill="url(#gGreen)"/>
<circle cx="683.1" cy="498.5" r="14.5" fill="url(#gOlive)"/>
<circle cx="615.8" cy="565.6" r="8.8" fill="url(#gOrange)"/>
<circle cx="632" cy="549.5" r="12.7" fill="url(#gRed)"/>
<circle cx="586.2" cy="527.2" r="8.8" fill="url(#gOrange)"/>
<circle cx="655.9" cy="528.6" r="10.7" fill="url(#gGreen)"/>
<circle cx="684.6" cy="577.2" r="16.4" fill="url(#gBlue)"/>
<circle cx="581.2" cy="597.1" r="16.4" fill="url(#gBlue)"/>
<circle cx="654.6" cy="606.3" r="14.4" fill="url(#gOlive)"/>
<line x1="554.1" y1="527.1" x2="554.1" y2="602.8" stroke="#111" stroke-width="1.6" />
<line x1="548.6" y1="527.1" x2="559.7" y2="527.1" stroke="#111" stroke-width="1.6" />
<line x1="548.6" y1="602.8" x2="559.7" y2="602.8" stroke="#111" stroke-width="1.6" />
<text x="543.8" y="571" font-size="16.4" font-style="italic" text-anchor="middle" fill="#1a1a1a">a</text>
<line x1="868.6" y1="495" x2="958.2" y2="495" stroke="#b4b4b4" stroke-width="1.4" stroke-dasharray="6 3.6"/>
<line x1="958.2" y1="495" x2="958.2" y2="582" stroke="#b4b4b4" stroke-width="1.4" stroke-dasharray="6 3.6"/>
<line x1="958.2" y1="582" x2="868.6" y2="582" stroke="#b4b4b4" stroke-width="1.4" stroke-dasharray="6 3.6"/>
<line x1="868.6" y1="582" x2="868.6" y2="495" stroke="#b4b4b4" stroke-width="1.4" stroke-dasharray="6 3.6"/>
<line x1="842.6" y1="526.5" x2="932.4" y2="526.5" stroke="#b4b4b4" stroke-width="1.4" stroke-dasharray="6 3.6"/>
<line x1="932.4" y1="526.5" x2="932.4" y2="609.3" stroke="#b4b4b4" stroke-width="1.4" stroke-dasharray="6 3.6"/>
<line x1="932.4" y1="609.3" x2="842.6" y2="609.3" stroke="#b4b4b4" stroke-width="1.4" stroke-dasharray="6 3.6"/>
<line x1="842.6" y1="609.3" x2="842.6" y2="526.5" stroke="#b4b4b4" stroke-width="1.4" stroke-dasharray="6 3.6"/>
<line x1="842.6" y1="526.5" x2="868.6" y2="495" stroke="#b4b4b4" stroke-width="1.4" stroke-dasharray="6 3.6"/>
<line x1="932.4" y1="526.5" x2="958.2" y2="495" stroke="#b4b4b4" stroke-width="1.4" stroke-dasharray="6 3.6"/>
<line x1="842.6" y1="609.3" x2="868.6" y2="582" stroke="#b4b4b4" stroke-width="1.4" stroke-dasharray="6 3.6"/>
<line x1="932.4" y1="609.3" x2="958.2" y2="582" stroke="#b4b4b4" stroke-width="1.4" stroke-dasharray="6 3.6"/>
<line x1="871" y1="496.5" x2="954.5" y2="490.8" stroke="#111" stroke-width="1.75" stroke-linecap="round"/>
<line x1="871" y1="499.1" x2="843.4" y2="525.1" stroke="#111" stroke-width="1.75" stroke-linecap="round"/>
<line x1="843.4" y1="528" x2="927" y2="522.3" stroke="#111" stroke-width="1.75" stroke-linecap="round"/>
<line x1="927" y1="521.2" x2="954.5" y2="495.8" stroke="#111" stroke-width="1.75" stroke-linecap="round"/>
<line x1="871.9" y1="498.7" x2="871.9" y2="579.8" stroke="#111" stroke-width="1.75" stroke-linecap="round"/>
<line x1="926.4" y1="524.1" x2="926.4" y2="610.2" stroke="#111" stroke-width="1.75" stroke-linecap="round"/>
<line x1="959.2" y1="494.5" x2="964.4" y2="580" stroke="#111" stroke-width="1.75" stroke-linecap="round"/>
<line x1="840.1" y1="528.6" x2="845.3" y2="610" stroke="#111" stroke-width="1.75" stroke-linecap="round"/>
<line x1="873.1" y1="580.9" x2="847.7" y2="608.8" stroke="#111" stroke-width="1.75" stroke-linecap="round"/>
<line x1="873.1" y1="580.5" x2="956.8" y2="576.6" stroke="#111" stroke-width="1.75" stroke-linecap="round"/>
<line x1="847.7" y1="613.1" x2="925.4" y2="613.1" stroke="#111" stroke-width="1.75" stroke-linecap="round"/>
<line x1="925.4" y1="613.9" x2="956.8" y2="583.9" stroke="#111" stroke-width="1.75" stroke-linecap="round"/>
<circle cx="871" cy="498.7" r="10.8" fill="url(#gGreen)"/>
<circle cx="954.5" cy="494.5" r="14.4" fill="url(#gOlive)"/>
<circle cx="873.2" cy="579.6" r="8.8" fill="url(#gOrange)"/>
<circle cx="894.5" cy="558.5" r="12.6" fill="url(#gRed)"/>
<circle cx="843.4" cy="528.6" r="8.8" fill="url(#gOrange)"/>
<circle cx="927" cy="524.1" r="10.8" fill="url(#gGreen)"/>
<circle cx="956.7" cy="580.3" r="16.5" fill="url(#gBlue)"/>
<circle cx="847.7" cy="610.2" r="16.5" fill="url(#gBlue)"/>
<circle cx="925.4" cy="610.2" r="14.4" fill="url(#gOlive)"/>
<line x1="823.9" y1="527.1" x2="823.9" y2="614.8" stroke="#111" stroke-width="1.6" />
<line x1="818.5" y1="527.1" x2="829.5" y2="527.1" stroke="#111" stroke-width="1.6" />
<line x1="818.5" y1="614.8" x2="829.5" y2="614.8" stroke="#111" stroke-width="1.6" />
<text x="814.8" y="578.0" font-size="16.4" font-style="italic" text-anchor="middle" fill="#1a1a1a">a</text>
<path d="M700.2 552.4 L799.5 552.4 L796.3 549.2 L809 556.1 L796.3 563.2 L799.5 559.8 L700.2 559.8 Z" fill="url(#gTemp)"/>
<text x="699.6" y="545.5" font-size="16.4" text-anchor="start" fill="#1a1a1a" >Low</text>
<text x="798" y="545.5" font-size="16.4" text-anchor="end" fill="#1a1a1a" >High</text>
<text x="704.3" y="578.4" font-size="16.4" text-anchor="start" fill="#1a1a1a" textLength="93.3" lengthAdjust="spacingAndGlyphs" >Temperature</text>
<text x="636.3" y="657.8" font-size="16.4" text-anchor="middle" fill="#1a1a1a" textLength="122.4" lengthAdjust="spacingAndGlyphs" >Severe distortion</text>
<text x="636.3" y="677.4" font-size="16.4" text-anchor="middle" fill="#1a1a1a" textLength="156.6" lengthAdjust="spacingAndGlyphs" >Small lattice constant</text>
<text x="892.8" y="657.8" font-size="16.4" text-anchor="middle" fill="#1a1a1a" textLength="113.4" lengthAdjust="spacingAndGlyphs" >Slight distortion</text>
<text x="892.2" y="677.4" font-size="16.4" text-anchor="middle" fill="#1a1a1a" textLength="158" lengthAdjust="spacingAndGlyphs" >Large lattice constant</text>
<text x="507.2" y="477.5" font-size="18" font-weight="bold" fill="#000" stroke="#000" stroke-width="0.5">d</text>
</g>
</svg>
</body></html>
